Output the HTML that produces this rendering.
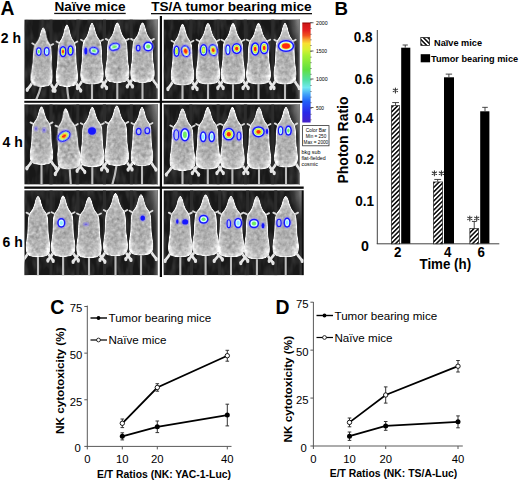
<!DOCTYPE html>
<html><head><meta charset="utf-8"><style>html,body{margin:0;padding:0;background:#fff;}svg{display:block;}</style></head>
<body><svg width="520" height="481" viewBox="0 0 520 481"><defs>
<radialGradient id="mb" cx="50%" cy="55%" r="55%"><stop offset="0" stop-color="#aaaaaa"/><stop offset="0.6" stop-color="#b2b2b2"/><stop offset="0.86" stop-color="#cccccc"/><stop offset="1" stop-color="#ececec"/></radialGradient>
<linearGradient id="vig" x1="0" x2="1" y1="0" y2="0"><stop offset="0" stop-color="#888" stop-opacity="0"/><stop offset="1" stop-color="#8a8a8a" stop-opacity="0.7"/></linearGradient>
<radialGradient id="vigr"><stop offset="0" stop-color="#a8a8a8" stop-opacity="0.85"/><stop offset="0.6" stop-color="#808080" stop-opacity="0.4"/><stop offset="1" stop-color="#606060" stop-opacity="0"/></radialGradient>
<filter id="bgn" x="0" y="0" width="100%" height="100%" color-interpolation-filters="sRGB"><feTurbulence type="fractalNoise" baseFrequency="0.18 0.06" numOctaves="2" seed="11"/><feColorMatrix type="matrix" values="0 0 0 0 0.28  0 0 0 0 0.28  0 0 0 0 0.28  1.4 0 0 0 -0.55"/></filter>
<filter id="soft" x="-20%" y="-20%" width="140%" height="140%"><feGaussianBlur stdDeviation="0.45"/></filter>
<filter id="mtex" x="-5%" y="-5%" width="110%" height="110%" color-interpolation-filters="sRGB"><feTurbulence type="fractalNoise" baseFrequency="0.28" numOctaves="2" seed="7"/><feColorMatrix type="matrix" values="0.33 0.33 0.33 0 0  0.33 0.33 0.33 0 0  0.33 0.33 0.33 0 0  0 0 0 0 1" result="gn"/><feComposite in="SourceGraphic" in2="gn" operator="arithmetic" k1="0" k2="1" k3="0.6" k4="-0.29" result="t"/><feComposite in="t" in2="SourceGraphic" operator="in"/></filter>
<filter id="soft2" x="-30%" y="-30%" width="160%" height="160%"><feGaussianBlur stdDeviation="0.5"/></filter>
<linearGradient id="cbar" x1="0" x2="0" y1="0" y2="1">
<stop offset="0" stop-color="#900000"/><stop offset="0.02" stop-color="#d01818"/><stop offset="0.08" stop-color="#e42020"/><stop offset="0.13" stop-color="#f05020"/><stop offset="0.17" stop-color="#f8a030"/><stop offset="0.21" stop-color="#f8e030"/><stop offset="0.27" stop-color="#d8f030"/><stop offset="0.33" stop-color="#a8f030"/><stop offset="0.47" stop-color="#60e040"/><stop offset="0.57" stop-color="#50e0a0"/><stop offset="0.65" stop-color="#70e8f0"/><stop offset="0.72" stop-color="#40a0f8"/><stop offset="0.79" stop-color="#2060f8"/><stop offset="0.9" stop-color="#2828e8"/><stop offset="1" stop-color="#4420c8"/></linearGradient>
<pattern id="hatch" width="3.2" height="3.2" patternUnits="userSpaceOnUse" patternTransform="rotate(45)"><rect width="3.2" height="3.2" fill="#fff"/><rect width="1.6" height="3.2" fill="#111"/></pattern>
<pattern id="hatch2" width="3.2" height="3.2" patternUnits="userSpaceOnUse" patternTransform="rotate(-45)"><rect width="3.2" height="3.2" fill="#fff"/><rect width="1.6" height="3.2" fill="#111"/></pattern>
</defs><rect width="520" height="481" fill="#fff"/><text x="0.6" y="14.6" font-size="19.3" font-weight="bold" text-anchor="start" font-family="Liberation Sans, sans-serif" >A</text><text x="54.5" y="11" font-size="13.6" font-weight="bold" text-anchor="start" font-family="Liberation Sans, sans-serif" >Naïve mice</text><rect x="54.2" y="12.8" width="71.5" height="1.3" fill="#111"/><text x="151.2" y="11.2" font-size="13.6" font-weight="bold" text-anchor="start" font-family="Liberation Sans, sans-serif" >TS/A tumor bearing mice</text><rect x="151" y="13" width="161" height="1.3" fill="#111"/><text x="0.8" y="43" font-size="14" font-weight="bold" text-anchor="start" font-family="Liberation Sans, sans-serif" >2 h</text><text x="2.5" y="146.8" font-size="14" font-weight="bold" text-anchor="start" font-family="Liberation Sans, sans-serif" >4 h</text><text x="2.5" y="247" font-size="14" font-weight="bold" text-anchor="start" font-family="Liberation Sans, sans-serif" >6 h</text><clipPath id="cL1"><rect x="24.3" y="19.4" width="133.7" height="79.6"/></clipPath><g clip-path="url(#cL1)"><rect x="24.3" y="19.4" width="133.7" height="79.6" fill="#181818"/><rect x="24.3" y="19.4" width="133.7" height="79.6" fill="#000" filter="url(#bgn)"/><rect x="49.5" y="19.4" width="3" height="79.6" fill="#2c2c2c"/><rect x="76.3" y="19.4" width="3" height="79.6" fill="#2c2c2c"/><rect x="103.0" y="19.4" width="3" height="79.6" fill="#2c2c2c"/><rect x="129.8" y="19.4" width="3" height="79.6" fill="#2c2c2c"/><ellipse cx="158" cy="19.4" rx="14" ry="34" fill="url(#vigr)"/><rect x="153" y="19.4" width="5" height="79.6" fill="url(#vig)" opacity="0.6"/><rect x="156.8" y="19.4" width="1.2" height="79.6" fill="#7a7a7a"/><g filter="url(#soft)"><g transform="rotate(2 42.3 57.0)"><path d="M42.3,84.8 Q40.8,92.5 37.3,101.0" stroke="#bdbdbd" stroke-width="2.1" fill="none"/><path d="M49.8,80.2 L53.2,86.0 L56.0,89.8" stroke="#e8e8e8" stroke-width="2.7" fill="none" stroke-linecap="round" stroke-linejoin="round"/><path d="M49.8,45.4 L52.8,43.7" stroke="#dcdcdc" stroke-width="1.8" fill="none" stroke-linecap="round"/><ellipse cx="56.2" cy="90.3" rx="1.6" ry="2.2" fill="#e4e4e4"/><path d="M34.8,80.2 L31.4,86.0 L28.6,89.8" stroke="#e8e8e8" stroke-width="2.7" fill="none" stroke-linecap="round" stroke-linejoin="round"/><path d="M34.8,45.4 L31.8,43.7" stroke="#dcdcdc" stroke-width="1.8" fill="none" stroke-linecap="round"/><ellipse cx="28.4" cy="90.3" rx="1.6" ry="2.2" fill="#e4e4e4"/></g><g transform="rotate(0 66.9 55.5)"><path d="M66.9,84.8 Q67.5,92.5 68.9,101.0" stroke="#bdbdbd" stroke-width="2.1" fill="none"/><path d="M74.3,79.9 L77.7,86.0 L80.5,90.0" stroke="#e8e8e8" stroke-width="2.7" fill="none" stroke-linecap="round" stroke-linejoin="round"/><path d="M74.3,43.3 L77.3,41.5" stroke="#dcdcdc" stroke-width="1.8" fill="none" stroke-linecap="round"/><ellipse cx="80.7" cy="90.6" rx="1.6" ry="2.2" fill="#e4e4e4"/><path d="M59.5,79.9 L56.1,86.0 L53.3,90.0" stroke="#e8e8e8" stroke-width="2.7" fill="none" stroke-linecap="round" stroke-linejoin="round"/><path d="M59.5,43.3 L56.5,41.5" stroke="#dcdcdc" stroke-width="1.8" fill="none" stroke-linecap="round"/><ellipse cx="53.1" cy="90.6" rx="1.6" ry="2.2" fill="#e4e4e4"/></g><g transform="rotate(0 92 53.5)"><path d="M92.0,82.3 Q92.0,91.2 92.0,101.0" stroke="#bdbdbd" stroke-width="2.1" fill="none"/><path d="M99.8,77.5 L103.4,83.5 L106.3,87.4" stroke="#e8e8e8" stroke-width="2.7" fill="none" stroke-linecap="round" stroke-linejoin="round"/><path d="M99.8,41.5 L103.0,39.7" stroke="#dcdcdc" stroke-width="1.8" fill="none" stroke-linecap="round"/><ellipse cx="106.6" cy="88.0" rx="1.6" ry="2.2" fill="#e4e4e4"/><path d="M84.2,77.5 L80.6,83.5 L77.7,87.4" stroke="#e8e8e8" stroke-width="2.7" fill="none" stroke-linecap="round" stroke-linejoin="round"/><path d="M84.2,41.5 L81.0,39.7" stroke="#dcdcdc" stroke-width="1.8" fill="none" stroke-linecap="round"/><ellipse cx="77.4" cy="88.0" rx="1.6" ry="2.2" fill="#e4e4e4"/></g><g transform="rotate(0 117.3 52.5)"><path d="M117.3,80.8 Q117.3,90.5 117.3,101.0" stroke="#bdbdbd" stroke-width="2.1" fill="none"/><path d="M125.5,76.1 L129.2,82.0 L132.3,85.8" stroke="#e8e8e8" stroke-width="2.7" fill="none" stroke-linecap="round" stroke-linejoin="round"/><path d="M125.5,40.7 L128.8,38.9" stroke="#dcdcdc" stroke-width="1.8" fill="none" stroke-linecap="round"/><ellipse cx="132.5" cy="86.4" rx="1.6" ry="2.2" fill="#e4e4e4"/><path d="M109.1,76.1 L105.4,82.0 L102.3,85.8" stroke="#e8e8e8" stroke-width="2.7" fill="none" stroke-linecap="round" stroke-linejoin="round"/><path d="M109.1,40.7 L105.8,38.9" stroke="#dcdcdc" stroke-width="1.8" fill="none" stroke-linecap="round"/><ellipse cx="102.1" cy="86.4" rx="1.6" ry="2.2" fill="#e4e4e4"/></g><g transform="rotate(0 142.5 52.5)"><path d="M142.5,80.8 Q142.5,90.5 142.5,101.0" stroke="#bdbdbd" stroke-width="2.1" fill="none"/><path d="M150.7,76.1 L154.4,82.0 L157.5,85.8" stroke="#e8e8e8" stroke-width="2.7" fill="none" stroke-linecap="round" stroke-linejoin="round"/><path d="M150.7,40.7 L154.0,38.9" stroke="#dcdcdc" stroke-width="1.8" fill="none" stroke-linecap="round"/><ellipse cx="157.7" cy="86.4" rx="1.6" ry="2.2" fill="#e4e4e4"/><path d="M134.3,76.1 L130.6,82.0 L127.5,85.8" stroke="#e8e8e8" stroke-width="2.7" fill="none" stroke-linecap="round" stroke-linejoin="round"/><path d="M134.3,40.7 L131.0,38.9" stroke="#dcdcdc" stroke-width="1.8" fill="none" stroke-linecap="round"/><ellipse cx="127.3" cy="86.4" rx="1.6" ry="2.2" fill="#e4e4e4"/></g></g><g filter="url(#mtex)"><path transform="rotate(2 42.3 57.0)" d="M42.30,28.00C42.62,28.00 42.94,28.58 43.26,29.16C43.58,29.74 43.92,30.51 44.23,31.48C44.53,32.45 44.80,33.90 45.08,34.96C45.37,36.02 45.55,36.80 45.94,37.86C46.33,38.92 46.79,40.18 47.44,41.34C48.08,42.50 49.22,43.56 49.79,44.82C50.36,46.08 50.61,47.04 50.86,48.88C51.11,50.72 51.16,53.33 51.29,55.84C51.41,58.35 51.41,61.45 51.61,63.96C51.81,66.47 52.23,68.79 52.46,70.92C52.70,73.05 53.00,74.88 53.00,76.72C53.00,78.56 53.00,80.54 52.46,81.94C51.93,83.34 50.86,84.45 49.79,85.13C48.72,85.81 47.11,85.81 46.04,86.00C44.97,86.19 44.17,86.24 43.37,86.29C42.57,86.34 42.03,86.34 41.23,86.29C40.43,86.24 39.62,86.19 38.55,86.00C37.48,85.81 35.88,85.81 34.81,85.13C33.74,84.45 32.67,83.34 32.13,81.94C31.60,80.54 31.60,78.56 31.60,76.72C31.60,74.88 31.90,73.05 32.13,70.92C32.37,68.79 32.79,66.47 32.99,63.96C33.19,61.45 33.19,58.35 33.31,55.84C33.44,53.33 33.49,50.72 33.74,48.88C33.99,47.04 34.24,46.08 34.81,44.82C35.38,43.56 36.52,42.50 37.16,41.34C37.81,40.18 38.27,38.92 38.66,37.86C39.05,36.80 39.23,36.02 39.52,34.96C39.80,33.90 40.07,32.45 40.37,31.48C40.68,30.51 41.02,29.74 41.34,29.16C41.66,28.58 41.98,28.00 42.30,28.00Z" fill="url(#mb)" stroke="#f2f2f2" stroke-width="1.3" filter="url(#soft)"/><path transform="rotate(0 66.9 55.5)" d="M66.90,25.00C67.22,25.00 67.54,25.61 67.85,26.22C68.17,26.83 68.51,27.64 68.81,28.66C69.11,29.68 69.37,31.20 69.66,32.32C69.94,33.44 70.12,34.25 70.50,35.37C70.89,36.49 71.35,37.81 71.99,39.03C72.62,40.25 73.75,41.37 74.32,42.69C74.89,44.01 75.13,45.03 75.38,46.96C75.63,48.89 75.68,51.64 75.80,54.28C75.93,56.92 75.93,60.18 76.12,62.82C76.32,65.46 76.74,67.90 76.97,70.14C77.20,72.38 77.50,74.31 77.50,76.24C77.50,78.17 77.50,80.26 76.97,81.73C76.44,83.20 75.38,84.37 74.32,85.09C73.26,85.80 71.67,85.80 70.61,86.00C69.55,86.20 68.76,86.25 67.96,86.30C67.17,86.36 66.64,86.36 65.84,86.30C65.05,86.25 64.25,86.20 63.19,86.00C62.13,85.80 60.54,85.80 59.48,85.09C58.42,84.37 57.36,83.20 56.83,81.73C56.30,80.26 56.30,78.17 56.30,76.24C56.30,74.31 56.60,72.38 56.83,70.14C57.06,67.90 57.48,65.46 57.68,62.82C57.87,60.18 57.87,56.92 58.00,54.28C58.12,51.64 58.17,48.89 58.42,46.96C58.67,45.03 58.91,44.01 59.48,42.69C60.05,41.37 61.18,40.25 61.81,39.03C62.45,37.81 62.91,36.49 63.30,35.37C63.68,34.25 63.86,33.44 64.14,32.32C64.43,31.20 64.69,29.68 64.99,28.66C65.29,27.64 65.63,26.83 65.95,26.22C66.26,25.61 66.58,25.00 66.90,25.00Z" fill="url(#mb)" stroke="#f2f2f2" stroke-width="1.3" filter="url(#soft)"/><path transform="rotate(0 92 53.5)" d="M92.00,23.50C92.34,23.50 92.67,24.10 93.01,24.70C93.34,25.30 93.70,26.10 94.02,27.10C94.33,28.10 94.61,29.60 94.91,30.70C95.21,31.80 95.40,32.60 95.81,33.70C96.22,34.80 96.70,36.10 97.38,37.30C98.05,38.50 99.24,39.60 99.84,40.90C100.44,42.20 100.70,43.20 100.96,45.10C101.22,47.00 101.28,49.70 101.41,52.30C101.54,54.90 101.54,58.10 101.74,60.70C101.95,63.30 102.40,65.70 102.64,67.90C102.88,70.10 103.20,72.00 103.20,73.90C103.20,75.80 103.20,77.85 102.64,79.30C102.08,80.75 100.96,81.90 99.84,82.60C98.72,83.30 97.04,83.30 95.92,83.50C94.80,83.70 93.96,83.75 93.12,83.80C92.28,83.85 91.72,83.85 90.88,83.80C90.04,83.75 89.20,83.70 88.08,83.50C86.96,83.30 85.28,83.30 84.16,82.60C83.04,81.90 81.92,80.75 81.36,79.30C80.80,77.85 80.80,75.80 80.80,73.90C80.80,72.00 81.12,70.10 81.36,67.90C81.60,65.70 82.05,63.30 82.26,60.70C82.46,58.10 82.46,54.90 82.59,52.30C82.72,49.70 82.78,47.00 83.04,45.10C83.30,43.20 83.56,42.20 84.16,40.90C84.76,39.60 85.95,38.50 86.62,37.30C87.30,36.10 87.78,34.80 88.19,33.70C88.60,32.60 88.79,31.80 89.09,30.70C89.39,29.60 89.67,28.10 89.98,27.10C90.30,26.10 90.66,25.30 90.99,24.70C91.33,24.10 91.66,23.50 92.00,23.50Z" fill="url(#mb)" stroke="#f2f2f2" stroke-width="1.3" filter="url(#soft)"/><path transform="rotate(0 117.3 52.5)" d="M117.30,23.00C117.65,23.00 118.00,23.59 118.35,24.18C118.70,24.77 119.07,25.56 119.41,26.54C119.74,27.52 120.03,29.00 120.34,30.08C120.65,31.16 120.85,31.95 121.28,33.03C121.71,34.11 122.21,35.39 122.92,36.57C123.62,37.75 124.87,38.83 125.49,40.11C126.11,41.39 126.39,42.37 126.66,44.24C126.93,46.11 126.99,48.76 127.13,51.32C127.26,53.88 127.26,57.02 127.48,59.58C127.69,62.14 128.16,64.50 128.41,66.66C128.67,68.82 129.00,70.69 129.00,72.56C129.00,74.43 129.00,76.44 128.41,77.87C127.83,79.30 126.66,80.43 125.49,81.12C124.32,81.80 122.56,81.80 121.39,82.00C120.22,82.20 119.35,82.25 118.47,82.29C117.59,82.34 117.01,82.34 116.13,82.29C115.25,82.25 114.38,82.20 113.20,82.00C112.03,81.80 110.28,81.80 109.11,81.12C107.94,80.43 106.77,79.30 106.19,77.87C105.60,76.44 105.60,74.43 105.60,72.56C105.60,70.69 105.93,68.82 106.19,66.66C106.44,64.50 106.91,62.14 107.12,59.58C107.34,57.02 107.34,53.88 107.47,51.32C107.61,48.76 107.67,46.11 107.94,44.24C108.21,42.37 108.49,41.39 109.11,40.11C109.73,38.83 110.98,37.75 111.68,36.57C112.39,35.39 112.89,34.11 113.32,33.03C113.75,31.95 113.95,31.16 114.26,30.08C114.57,29.00 114.86,27.52 115.19,26.54C115.53,25.56 115.90,24.77 116.25,24.18C116.60,23.59 116.95,23.00 117.30,23.00Z" fill="url(#mb)" stroke="#f2f2f2" stroke-width="1.3" filter="url(#soft)"/><path transform="rotate(0 142.5 52.5)" d="M142.50,23.00C142.85,23.00 143.20,23.59 143.55,24.18C143.90,24.77 144.27,25.56 144.61,26.54C144.94,27.52 145.23,29.00 145.54,30.08C145.85,31.16 146.05,31.95 146.48,33.03C146.91,34.11 147.41,35.39 148.12,36.57C148.82,37.75 150.07,38.83 150.69,40.11C151.31,41.39 151.59,42.37 151.86,44.24C152.13,46.11 152.19,48.76 152.33,51.32C152.46,53.88 152.46,57.02 152.68,59.58C152.89,62.14 153.36,64.50 153.62,66.66C153.87,68.82 154.20,70.69 154.20,72.56C154.20,74.43 154.20,76.44 153.62,77.87C153.03,79.30 151.86,80.43 150.69,81.12C149.52,81.80 147.76,81.80 146.59,82.00C145.43,82.20 144.55,82.25 143.67,82.29C142.79,82.34 142.21,82.34 141.33,82.29C140.45,82.25 139.57,82.20 138.41,82.00C137.24,81.80 135.48,81.80 134.31,81.12C133.14,80.43 131.97,79.30 131.38,77.87C130.80,76.44 130.80,74.43 130.80,72.56C130.80,70.69 131.13,68.82 131.38,66.66C131.64,64.50 132.11,62.14 132.32,59.58C132.54,57.02 132.54,53.88 132.67,51.32C132.81,48.76 132.87,46.11 133.14,44.24C133.41,42.37 133.69,41.39 134.31,40.11C134.93,38.83 136.18,37.75 136.88,36.57C137.59,35.39 138.09,34.11 138.52,33.03C138.95,31.95 139.15,31.16 139.46,30.08C139.77,29.00 140.06,27.52 140.39,26.54C140.73,25.56 141.10,24.77 141.45,24.18C141.80,23.59 142.15,23.00 142.50,23.00Z" fill="url(#mb)" stroke="#f2f2f2" stroke-width="1.3" filter="url(#soft)"/></g><g transform="rotate(0 38.8 51.6)" filter="url(#soft2)"><ellipse cx="38.8" cy="51.6" rx="4.1" ry="5.6" fill="#9088ff" opacity="0.4"/><ellipse cx="38.8" cy="51.6" rx="2.8" ry="4.3" fill="#1818ff"/><ellipse cx="38.8" cy="51.6" rx="1.65" ry="3.15" fill="#d4fcff"/><ellipse cx="38.8" cy="51.6" rx="0.99" ry="1.89" fill="#70ec60"/></g><g transform="rotate(0 46.7 51.5)" filter="url(#soft2)"><ellipse cx="46.7" cy="51.5" rx="4.15" ry="5.7" fill="#9088ff" opacity="0.4"/><ellipse cx="46.7" cy="51.5" rx="2.85" ry="4.4" fill="#1818ff"/><ellipse cx="46.7" cy="51.5" rx="1.70" ry="3.25" fill="#d4fcff"/><ellipse cx="46.7" cy="51.5" rx="1.02" ry="1.95" fill="#90e8ff"/></g><g transform="rotate(0 63 51.6)" filter="url(#soft2)"><ellipse cx="63" cy="51.6" rx="4.9" ry="7.0" fill="#9088ff" opacity="0.4"/><ellipse cx="63" cy="51.6" rx="3.6" ry="5.7" fill="#1818ff"/><ellipse cx="63" cy="51.6" rx="2.10" ry="4.20" fill="#d4fcff"/><ellipse cx="63" cy="51.6" rx="1.78" ry="3.57" fill="#a8f050"/><ellipse cx="63" cy="51.6" rx="1.43" ry="2.86" fill="#f8f040"/><ellipse cx="63" cy="51.6" rx="0.95" ry="1.89" fill="#ff2a10"/></g><g transform="rotate(0 70.5 50.5)" filter="url(#soft2)"><ellipse cx="70.5" cy="50.5" rx="4.5" ry="6.6" fill="#9088ff" opacity="0.4"/><ellipse cx="70.5" cy="50.5" rx="3.2" ry="5.3" fill="#1818ff"/><ellipse cx="70.5" cy="50.5" rx="1.70" ry="3.80" fill="#d4fcff"/><ellipse cx="70.5" cy="50.5" rx="1.33" ry="2.96" fill="#80ec50"/><ellipse cx="70.5" cy="50.5" rx="0.85" ry="1.90" fill="#f4f040"/></g><g transform="rotate(0 85.8 51)" filter="url(#soft2)"><ellipse cx="85.8" cy="51" rx="2.8" ry="4.8" fill="#9088ff" opacity="0.4"/><ellipse cx="85.8" cy="51" rx="1.5" ry="3.5" fill="#1818ff"/></g><g transform="rotate(15 94 50.8)" filter="url(#soft2)"><ellipse cx="94" cy="50.8" rx="6.3" ry="5.3" fill="#9088ff" opacity="0.4"/><ellipse cx="94" cy="50.8" rx="5" ry="4" fill="#1818ff"/><ellipse cx="94" cy="50.8" rx="3.50" ry="2.50" fill="#d4fcff"/><ellipse cx="94" cy="50.8" rx="2.10" ry="1.50" fill="#70ec60"/></g><g transform="rotate(-15 114.5 46.8)" filter="url(#soft2)"><ellipse cx="114.5" cy="46.8" rx="7.0" ry="5.3" fill="#9088ff" opacity="0.4"/><ellipse cx="114.5" cy="46.8" rx="5.7" ry="4" fill="#1818ff"/><ellipse cx="114.5" cy="46.8" rx="4.20" ry="2.50" fill="#d4fcff"/><ellipse cx="114.5" cy="46.8" rx="2.52" ry="1.50" fill="#70ec60"/></g><g transform="rotate(0 138.2 48.1)" filter="url(#soft2)"><ellipse cx="138.2" cy="48.1" rx="3.7" ry="4.7" fill="#9088ff" opacity="0.4"/><ellipse cx="138.2" cy="48.1" rx="2.4" ry="3.4" fill="#1818ff"/><ellipse cx="138.2" cy="48.1" rx="1.25" ry="2.25" fill="#b4bcf0"/></g><g transform="rotate(0 148.2 46.5)" filter="url(#soft2)"><ellipse cx="148.2" cy="46.5" rx="6.3" ry="6.3" fill="#9088ff" opacity="0.4"/><ellipse cx="148.2" cy="46.5" rx="5" ry="5" fill="#1818ff"/><ellipse cx="148.2" cy="46.5" rx="3.50" ry="3.50" fill="#d4fcff"/><ellipse cx="148.2" cy="46.5" rx="2.10" ry="2.10" fill="#70ec60"/></g></g><clipPath id="cR1"><rect x="163.5" y="19.4" width="136.5" height="79.6"/></clipPath><g clip-path="url(#cR1)"><rect x="163.5" y="19.4" width="136.5" height="79.6" fill="#181818"/><rect x="163.5" y="19.4" width="136.5" height="79.6" fill="#000" filter="url(#bgn)"/><rect x="189.3" y="19.4" width="3" height="79.6" fill="#2c2c2c"/><rect x="216.6" y="19.4" width="3" height="79.6" fill="#2c2c2c"/><rect x="243.9" y="19.4" width="3" height="79.6" fill="#2c2c2c"/><rect x="271.2" y="19.4" width="3" height="79.6" fill="#2c2c2c"/><ellipse cx="300" cy="19.4" rx="14" ry="34" fill="url(#vigr)"/><rect x="295" y="19.4" width="5" height="79.6" fill="url(#vig)" opacity="0.6"/><rect x="298.8" y="19.4" width="1.2" height="79.6" fill="#7a7a7a"/><g filter="url(#soft)"><g transform="rotate(0 182.5 54.5)"><path d="M182.5,83.3 Q182.5,91.8 182.5,101.0" stroke="#bdbdbd" stroke-width="2.1" fill="none"/><path d="M190.3,78.5 L193.9,84.5 L196.8,88.4" stroke="#e8e8e8" stroke-width="2.7" fill="none" stroke-linecap="round" stroke-linejoin="round"/><path d="M190.3,42.5 L193.5,40.7" stroke="#dcdcdc" stroke-width="1.8" fill="none" stroke-linecap="round"/><ellipse cx="197.1" cy="89.0" rx="1.6" ry="2.2" fill="#e4e4e4"/><path d="M174.7,78.5 L171.1,84.5 L168.2,88.4" stroke="#e8e8e8" stroke-width="2.7" fill="none" stroke-linecap="round" stroke-linejoin="round"/><path d="M174.7,42.5 L171.5,40.7" stroke="#dcdcdc" stroke-width="1.8" fill="none" stroke-linecap="round"/><ellipse cx="167.9" cy="89.0" rx="1.6" ry="2.2" fill="#e4e4e4"/></g><g transform="rotate(0 208 53.5)"><path d="M208.0,82.3 Q208.0,91.2 208.0,101.0" stroke="#bdbdbd" stroke-width="2.1" fill="none"/><path d="M216.2,77.5 L219.9,83.5 L223.0,87.4" stroke="#e8e8e8" stroke-width="2.7" fill="none" stroke-linecap="round" stroke-linejoin="round"/><path d="M216.2,41.5 L219.5,39.7" stroke="#dcdcdc" stroke-width="1.8" fill="none" stroke-linecap="round"/><ellipse cx="223.2" cy="88.0" rx="1.6" ry="2.2" fill="#e4e4e4"/><path d="M199.8,77.5 L196.1,83.5 L193.0,87.4" stroke="#e8e8e8" stroke-width="2.7" fill="none" stroke-linecap="round" stroke-linejoin="round"/><path d="M199.8,41.5 L196.5,39.7" stroke="#dcdcdc" stroke-width="1.8" fill="none" stroke-linecap="round"/><ellipse cx="192.8" cy="88.0" rx="1.6" ry="2.2" fill="#e4e4e4"/></g><g transform="rotate(0 233 53.5)"><path d="M233.0,82.3 Q233.0,91.2 233.0,101.0" stroke="#bdbdbd" stroke-width="2.1" fill="none"/><path d="M241.2,77.5 L244.9,83.5 L248.0,87.4" stroke="#e8e8e8" stroke-width="2.7" fill="none" stroke-linecap="round" stroke-linejoin="round"/><path d="M241.2,41.5 L244.5,39.7" stroke="#dcdcdc" stroke-width="1.8" fill="none" stroke-linecap="round"/><ellipse cx="248.2" cy="88.0" rx="1.6" ry="2.2" fill="#e4e4e4"/><path d="M224.8,77.5 L221.1,83.5 L218.0,87.4" stroke="#e8e8e8" stroke-width="2.7" fill="none" stroke-linecap="round" stroke-linejoin="round"/><path d="M224.8,41.5 L221.5,39.7" stroke="#dcdcdc" stroke-width="1.8" fill="none" stroke-linecap="round"/><ellipse cx="217.8" cy="88.0" rx="1.6" ry="2.2" fill="#e4e4e4"/></g><g transform="rotate(0 258.5 53.5)"><path d="M258.5,82.3 Q258.5,91.2 258.5,101.0" stroke="#bdbdbd" stroke-width="2.1" fill="none"/><path d="M266.8,77.5 L270.6,83.5 L273.7,87.4" stroke="#e8e8e8" stroke-width="2.7" fill="none" stroke-linecap="round" stroke-linejoin="round"/><path d="M266.8,41.5 L270.2,39.7" stroke="#dcdcdc" stroke-width="1.8" fill="none" stroke-linecap="round"/><ellipse cx="274.0" cy="88.0" rx="1.6" ry="2.2" fill="#e4e4e4"/><path d="M250.2,77.5 L246.4,83.5 L243.3,87.4" stroke="#e8e8e8" stroke-width="2.7" fill="none" stroke-linecap="round" stroke-linejoin="round"/><path d="M250.2,41.5 L246.8,39.7" stroke="#dcdcdc" stroke-width="1.8" fill="none" stroke-linecap="round"/><ellipse cx="243.0" cy="88.0" rx="1.6" ry="2.2" fill="#e4e4e4"/></g><g transform="rotate(0 285 53.5)"><path d="M285.0,82.3 Q285.0,91.2 285.0,101.0" stroke="#bdbdbd" stroke-width="2.1" fill="none"/><path d="M292.6,77.5 L296.1,83.5 L299.0,87.4" stroke="#e8e8e8" stroke-width="2.7" fill="none" stroke-linecap="round" stroke-linejoin="round"/><path d="M292.6,41.5 L295.7,39.7" stroke="#dcdcdc" stroke-width="1.8" fill="none" stroke-linecap="round"/><ellipse cx="299.2" cy="88.0" rx="1.6" ry="2.2" fill="#e4e4e4"/><path d="M277.4,77.5 L273.9,83.5 L271.0,87.4" stroke="#e8e8e8" stroke-width="2.7" fill="none" stroke-linecap="round" stroke-linejoin="round"/><path d="M277.4,41.5 L274.3,39.7" stroke="#dcdcdc" stroke-width="1.8" fill="none" stroke-linecap="round"/><ellipse cx="270.8" cy="88.0" rx="1.6" ry="2.2" fill="#e4e4e4"/></g></g><g filter="url(#mtex)"><path transform="rotate(0 182.5 54.5)" d="M182.50,24.50C182.84,24.50 183.17,25.10 183.51,25.70C183.84,26.30 184.20,27.10 184.52,28.10C184.83,29.10 185.11,30.60 185.41,31.70C185.71,32.80 185.90,33.60 186.31,34.70C186.72,35.80 187.20,37.10 187.88,38.30C188.55,39.50 189.74,40.60 190.34,41.90C190.94,43.20 191.20,44.20 191.46,46.10C191.72,48.00 191.78,50.70 191.91,53.30C192.04,55.90 192.04,59.10 192.24,61.70C192.45,64.30 192.90,66.70 193.14,68.90C193.38,71.10 193.70,73.00 193.70,74.90C193.70,76.80 193.70,78.85 193.14,80.30C192.58,81.75 191.46,82.90 190.34,83.60C189.22,84.30 187.54,84.30 186.42,84.50C185.30,84.70 184.46,84.75 183.62,84.80C182.78,84.85 182.22,84.85 181.38,84.80C180.54,84.75 179.70,84.70 178.58,84.50C177.46,84.30 175.78,84.30 174.66,83.60C173.54,82.90 172.42,81.75 171.86,80.30C171.30,78.85 171.30,76.80 171.30,74.90C171.30,73.00 171.62,71.10 171.86,68.90C172.10,66.70 172.55,64.30 172.76,61.70C172.96,59.10 172.96,55.90 173.09,53.30C173.22,50.70 173.28,48.00 173.54,46.10C173.80,44.20 174.06,43.20 174.66,41.90C175.26,40.60 176.45,39.50 177.12,38.30C177.80,37.10 178.28,35.80 178.69,34.70C179.10,33.60 179.29,32.80 179.59,31.70C179.89,30.60 180.17,29.10 180.48,28.10C180.80,27.10 181.16,26.30 181.49,25.70C181.83,25.10 182.16,24.50 182.50,24.50Z" fill="url(#mb)" stroke="#f2f2f2" stroke-width="1.3" filter="url(#soft)"/><path transform="rotate(0 208 53.5)" d="M208.00,23.50C208.35,23.50 208.70,24.10 209.05,24.70C209.40,25.30 209.77,26.10 210.11,27.10C210.44,28.10 210.73,29.60 211.04,30.70C211.35,31.80 211.55,32.60 211.98,33.70C212.41,34.80 212.91,36.10 213.62,37.30C214.32,38.50 215.57,39.60 216.19,40.90C216.81,42.20 217.09,43.20 217.36,45.10C217.63,47.00 217.69,49.70 217.83,52.30C217.96,54.90 217.96,58.10 218.18,60.70C218.39,63.30 218.86,65.70 219.12,67.90C219.37,70.10 219.70,72.00 219.70,73.90C219.70,75.80 219.70,77.85 219.12,79.30C218.53,80.75 217.36,81.90 216.19,82.60C215.02,83.30 213.26,83.30 212.09,83.50C210.93,83.70 210.05,83.75 209.17,83.80C208.29,83.85 207.71,83.85 206.83,83.80C205.95,83.75 205.07,83.70 203.91,83.50C202.74,83.30 200.98,83.30 199.81,82.60C198.64,81.90 197.47,80.75 196.88,79.30C196.30,77.85 196.30,75.80 196.30,73.90C196.30,72.00 196.63,70.10 196.88,67.90C197.14,65.70 197.61,63.30 197.82,60.70C198.04,58.10 198.04,54.90 198.17,52.30C198.31,49.70 198.37,47.00 198.64,45.10C198.91,43.20 199.19,42.20 199.81,40.90C200.43,39.60 201.68,38.50 202.38,37.30C203.09,36.10 203.59,34.80 204.02,33.70C204.45,32.60 204.65,31.80 204.96,30.70C205.27,29.60 205.56,28.10 205.89,27.10C206.23,26.10 206.60,25.30 206.95,24.70C207.30,24.10 207.65,23.50 208.00,23.50Z" fill="url(#mb)" stroke="#f2f2f2" stroke-width="1.3" filter="url(#soft)"/><path transform="rotate(0 233 53.5)" d="M233.00,23.50C233.35,23.50 233.70,24.10 234.05,24.70C234.40,25.30 234.77,26.10 235.11,27.10C235.44,28.10 235.73,29.60 236.04,30.70C236.35,31.80 236.55,32.60 236.98,33.70C237.41,34.80 237.91,36.10 238.62,37.30C239.32,38.50 240.57,39.60 241.19,40.90C241.81,42.20 242.09,43.20 242.36,45.10C242.63,47.00 242.69,49.70 242.83,52.30C242.96,54.90 242.96,58.10 243.18,60.70C243.39,63.30 243.86,65.70 244.12,67.90C244.37,70.10 244.70,72.00 244.70,73.90C244.70,75.80 244.70,77.85 244.12,79.30C243.53,80.75 242.36,81.90 241.19,82.60C240.02,83.30 238.26,83.30 237.09,83.50C235.93,83.70 235.05,83.75 234.17,83.80C233.29,83.85 232.71,83.85 231.83,83.80C230.95,83.75 230.07,83.70 228.91,83.50C227.74,83.30 225.98,83.30 224.81,82.60C223.64,81.90 222.47,80.75 221.88,79.30C221.30,77.85 221.30,75.80 221.30,73.90C221.30,72.00 221.63,70.10 221.88,67.90C222.14,65.70 222.61,63.30 222.82,60.70C223.04,58.10 223.04,54.90 223.17,52.30C223.31,49.70 223.37,47.00 223.64,45.10C223.91,43.20 224.19,42.20 224.81,40.90C225.43,39.60 226.68,38.50 227.38,37.30C228.09,36.10 228.59,34.80 229.02,33.70C229.45,32.60 229.65,31.80 229.96,30.70C230.27,29.60 230.56,28.10 230.89,27.10C231.23,26.10 231.60,25.30 231.95,24.70C232.30,24.10 232.65,23.50 233.00,23.50Z" fill="url(#mb)" stroke="#f2f2f2" stroke-width="1.3" filter="url(#soft)"/><path transform="rotate(0 258.5 53.5)" d="M258.50,23.50C258.86,23.50 259.21,24.10 259.57,24.70C259.93,25.30 260.30,26.10 260.64,27.10C260.98,28.10 261.28,29.60 261.59,30.70C261.91,31.80 262.11,32.60 262.55,33.70C262.98,34.80 263.50,36.10 264.21,37.30C264.93,38.50 266.20,39.60 266.83,40.90C267.46,42.20 267.74,43.20 268.02,45.10C268.30,47.00 268.36,49.70 268.50,52.30C268.63,54.90 268.63,58.10 268.85,60.70C269.07,63.30 269.55,65.70 269.81,67.90C270.06,70.10 270.40,72.00 270.40,73.90C270.40,75.80 270.40,77.85 269.81,79.30C269.21,80.75 268.02,81.90 266.83,82.60C265.64,83.30 263.86,83.30 262.67,83.50C261.48,83.70 260.58,83.75 259.69,83.80C258.80,83.85 258.20,83.85 257.31,83.80C256.42,83.75 255.53,83.70 254.34,83.50C253.15,83.30 251.36,83.30 250.17,82.60C248.98,81.90 247.79,80.75 247.19,79.30C246.60,77.85 246.60,75.80 246.60,73.90C246.60,72.00 246.94,70.10 247.19,67.90C247.45,65.70 247.93,63.30 248.15,60.70C248.37,58.10 248.37,54.90 248.50,52.30C248.64,49.70 248.70,47.00 248.98,45.10C249.26,43.20 249.54,42.20 250.17,40.90C250.80,39.60 252.07,38.50 252.79,37.30C253.50,36.10 254.02,34.80 254.45,33.70C254.89,32.60 255.09,31.80 255.41,30.70C255.72,29.60 256.02,28.10 256.36,27.10C256.70,26.10 257.07,25.30 257.43,24.70C257.79,24.10 258.14,23.50 258.50,23.50Z" fill="url(#mb)" stroke="#f2f2f2" stroke-width="1.3" filter="url(#soft)"/><path transform="rotate(0 285 53.5)" d="M285.00,23.50C285.33,23.50 285.65,24.10 285.98,24.70C286.31,25.30 286.65,26.10 286.96,27.10C287.27,28.10 287.54,29.60 287.83,30.70C288.12,31.80 288.31,32.60 288.71,33.70C289.11,34.80 289.58,36.10 290.23,37.30C290.89,38.50 292.05,39.60 292.63,40.90C293.21,42.20 293.47,43.20 293.72,45.10C293.97,47.00 294.03,49.70 294.16,52.30C294.28,54.90 294.28,58.10 294.48,60.70C294.68,63.30 295.12,65.70 295.36,67.90C295.59,70.10 295.90,72.00 295.90,73.90C295.90,75.80 295.90,77.85 295.36,79.30C294.81,80.75 293.72,81.90 292.63,82.60C291.54,83.30 289.90,83.30 288.81,83.50C287.73,83.70 286.91,83.75 286.09,83.80C285.27,83.85 284.73,83.85 283.91,83.80C283.09,83.75 282.27,83.70 281.19,83.50C280.10,83.30 278.46,83.30 277.37,82.60C276.28,81.90 275.19,80.75 274.64,79.30C274.10,77.85 274.10,75.80 274.10,73.90C274.10,72.00 274.41,70.10 274.64,67.90C274.88,65.70 275.32,63.30 275.52,60.70C275.72,58.10 275.72,54.90 275.84,52.30C275.97,49.70 276.03,47.00 276.28,45.10C276.53,43.20 276.79,42.20 277.37,40.90C277.95,39.60 279.11,38.50 279.77,37.30C280.42,36.10 280.89,34.80 281.29,33.70C281.69,32.60 281.88,31.80 282.17,30.70C282.46,29.60 282.73,28.10 283.04,27.10C283.35,26.10 283.69,25.30 284.02,24.70C284.35,24.10 284.67,23.50 285.00,23.50Z" fill="url(#mb)" stroke="#f2f2f2" stroke-width="1.3" filter="url(#soft)"/></g><g transform="rotate(0 176.6 51.2)" filter="url(#soft2)"><ellipse cx="176.6" cy="51.2" rx="4.5" ry="7.05" fill="#9088ff" opacity="0.4"/><ellipse cx="176.6" cy="51.2" rx="3.2" ry="5.75" fill="#1818ff"/><ellipse cx="176.6" cy="51.2" rx="1.70" ry="4.25" fill="#d4fcff"/><ellipse cx="176.6" cy="51.2" rx="1.33" ry="3.31" fill="#80ec50"/><ellipse cx="176.6" cy="51.2" rx="0.85" ry="2.12" fill="#f4f040"/></g><g transform="rotate(-15 185.6 51.2)" filter="url(#soft2)"><ellipse cx="185.6" cy="51.2" rx="5.8999999999999995" ry="7.5" fill="#9088ff" opacity="0.4"/><ellipse cx="185.6" cy="51.2" rx="4.6" ry="6.2" fill="#1818ff"/><ellipse cx="185.6" cy="51.2" rx="3.10" ry="4.70" fill="#d4fcff"/><ellipse cx="185.6" cy="51.2" rx="2.48" ry="3.76" fill="#f8f040"/><ellipse cx="185.6" cy="51.2" rx="1.86" ry="2.82" fill="#ff2a10"/></g><g transform="rotate(0 203.6 50)" filter="url(#soft2)"><ellipse cx="203.6" cy="50" rx="5.2" ry="7.3" fill="#9088ff" opacity="0.4"/><ellipse cx="203.6" cy="50" rx="3.9" ry="6" fill="#1818ff"/><ellipse cx="203.6" cy="50" rx="2.40" ry="4.50" fill="#d4fcff"/><ellipse cx="203.6" cy="50" rx="1.87" ry="3.51" fill="#80ec50"/><ellipse cx="203.6" cy="50" rx="1.20" ry="2.25" fill="#f4f040"/></g><g transform="rotate(-10 213.2 50.2)" filter="url(#soft2)"><ellipse cx="213.2" cy="50.2" rx="6.05" ry="7.5" fill="#9088ff" opacity="0.4"/><ellipse cx="213.2" cy="50.2" rx="4.75" ry="6.2" fill="#1818ff"/><ellipse cx="213.2" cy="50.2" rx="3.25" ry="4.70" fill="#d4fcff"/><ellipse cx="213.2" cy="50.2" rx="2.76" ry="4.00" fill="#a8f050"/><ellipse cx="213.2" cy="50.2" rx="2.21" ry="3.20" fill="#f8f040"/><ellipse cx="213.2" cy="50.2" rx="1.46" ry="2.12" fill="#ff2a10"/></g><g transform="rotate(0 227.9 49.8)" filter="url(#soft2)"><ellipse cx="227.9" cy="49.8" rx="3.9000000000000004" ry="6.5" fill="#9088ff" opacity="0.4"/><ellipse cx="227.9" cy="49.8" rx="2.6" ry="5.2" fill="#1818ff"/><ellipse cx="227.9" cy="49.8" rx="1.45" ry="4.05" fill="#d4fcff"/><ellipse cx="227.9" cy="49.8" rx="0.87" ry="2.43" fill="#90e8ff"/></g><g transform="rotate(0 236.7 48.6)" filter="url(#soft2)"><ellipse cx="236.7" cy="48.6" rx="6.3" ry="6.8999999999999995" fill="#9088ff" opacity="0.4"/><ellipse cx="236.7" cy="48.6" rx="5" ry="5.6" fill="#1818ff"/><ellipse cx="236.7" cy="48.6" rx="3.50" ry="4.10" fill="#d4fcff"/><ellipse cx="236.7" cy="48.6" rx="2.98" ry="3.48" fill="#a8f050"/><ellipse cx="236.7" cy="48.6" rx="2.38" ry="2.79" fill="#f8f040"/><ellipse cx="236.7" cy="48.6" rx="1.57" ry="1.84" fill="#ff2a10"/></g><g transform="rotate(0 255.2 49)" filter="url(#soft2)"><ellipse cx="255.2" cy="49" rx="5.8" ry="8.0" fill="#9088ff" opacity="0.4"/><ellipse cx="255.2" cy="49" rx="4.5" ry="6.7" fill="#1818ff"/><ellipse cx="255.2" cy="49" rx="3.00" ry="5.20" fill="#d4fcff"/><ellipse cx="255.2" cy="49" rx="2.55" ry="4.42" fill="#a8f050"/><ellipse cx="255.2" cy="49" rx="2.04" ry="3.54" fill="#f8f040"/><ellipse cx="255.2" cy="49" rx="1.35" ry="2.34" fill="#ff2a10"/></g><g transform="rotate(0 264.2 47.9)" filter="url(#soft2)"><ellipse cx="264.2" cy="47.9" rx="5.8" ry="7.7" fill="#9088ff" opacity="0.4"/><ellipse cx="264.2" cy="47.9" rx="4.5" ry="6.4" fill="#1818ff"/><ellipse cx="264.2" cy="47.9" rx="3.00" ry="4.90" fill="#d4fcff"/><ellipse cx="264.2" cy="47.9" rx="2.55" ry="4.17" fill="#a8f050"/><ellipse cx="264.2" cy="47.9" rx="2.04" ry="3.33" fill="#f8f040"/><ellipse cx="264.2" cy="47.9" rx="1.35" ry="2.21" fill="#ff2a10"/></g><g transform="rotate(0 286 46)" filter="url(#soft2)"><ellipse cx="286" cy="46" rx="9.5" ry="7.3" fill="#9088ff" opacity="0.4"/><ellipse cx="286" cy="46" rx="8.2" ry="6" fill="#1818ff"/><ellipse cx="286" cy="46" rx="6.70" ry="4.50" fill="#d4fcff"/><ellipse cx="286" cy="46" rx="5.36" ry="3.60" fill="#f8f040"/><ellipse cx="286" cy="46" rx="4.02" ry="2.70" fill="#ff2a10"/></g></g><clipPath id="cL2"><rect x="24.3" y="104.3" width="133.7" height="80.3"/></clipPath><g clip-path="url(#cL2)"><rect x="24.3" y="104.3" width="133.7" height="80.3" fill="#181818"/><rect x="24.3" y="104.3" width="133.7" height="80.3" fill="#000" filter="url(#bgn)"/><rect x="49.5" y="104.3" width="3" height="80.3" fill="#2c2c2c"/><rect x="76.3" y="104.3" width="3" height="80.3" fill="#2c2c2c"/><rect x="103.0" y="104.3" width="3" height="80.3" fill="#2c2c2c"/><rect x="129.8" y="104.3" width="3" height="80.3" fill="#2c2c2c"/><ellipse cx="158" cy="104.3" rx="14" ry="34" fill="url(#vigr)"/><rect x="153" y="104.3" width="5" height="80.3" fill="url(#vig)" opacity="0.6"/><rect x="156.8" y="104.3" width="1.2" height="80.3" fill="#7a7a7a"/><g filter="url(#soft)"><g transform="rotate(0 41.5 135.5)"><path d="M41.5,162.9 Q41.5,174.3 41.5,186.6" stroke="#bdbdbd" stroke-width="2.1" fill="none"/><path d="M49.3,158.3 L52.9,164.0 L55.8,167.7" stroke="#e8e8e8" stroke-width="2.7" fill="none" stroke-linecap="round" stroke-linejoin="round"/><path d="M49.3,124.1 L52.5,122.4" stroke="#dcdcdc" stroke-width="1.8" fill="none" stroke-linecap="round"/><ellipse cx="56.1" cy="168.3" rx="1.6" ry="2.2" fill="#e4e4e4"/><path d="M33.7,158.3 L30.1,164.0 L27.2,167.7" stroke="#e8e8e8" stroke-width="2.7" fill="none" stroke-linecap="round" stroke-linejoin="round"/><path d="M33.7,124.1 L30.5,122.4" stroke="#dcdcdc" stroke-width="1.8" fill="none" stroke-linecap="round"/><ellipse cx="26.9" cy="168.3" rx="1.6" ry="2.2" fill="#e4e4e4"/></g><g transform="rotate(-4 67.6 138.6)"><path d="M67.6,167.4 Q67.6,176.6 67.6,186.6" stroke="#bdbdbd" stroke-width="2.1" fill="none"/><path d="M75.6,162.6 L79.2,168.6 L82.2,172.5" stroke="#e8e8e8" stroke-width="2.7" fill="none" stroke-linecap="round" stroke-linejoin="round"/><path d="M75.6,126.6 L78.8,124.8" stroke="#dcdcdc" stroke-width="1.8" fill="none" stroke-linecap="round"/><ellipse cx="82.4" cy="173.1" rx="1.6" ry="2.2" fill="#e4e4e4"/><path d="M59.6,162.6 L56.0,168.6 L53.0,172.5" stroke="#e8e8e8" stroke-width="2.7" fill="none" stroke-linecap="round" stroke-linejoin="round"/><path d="M59.6,126.6 L56.4,124.8" stroke="#dcdcdc" stroke-width="1.8" fill="none" stroke-linecap="round"/><ellipse cx="52.8" cy="173.1" rx="1.6" ry="2.2" fill="#e4e4e4"/></g><g transform="rotate(0 92.3 136.8)"><path d="M92.3,165.1 Q92.3,175.4 92.3,186.6" stroke="#bdbdbd" stroke-width="2.1" fill="none"/><path d="M100.5,160.4 L104.2,166.3 L107.3,170.1" stroke="#e8e8e8" stroke-width="2.7" fill="none" stroke-linecap="round" stroke-linejoin="round"/><path d="M100.5,125.0 L103.8,123.2" stroke="#dcdcdc" stroke-width="1.8" fill="none" stroke-linecap="round"/><ellipse cx="107.5" cy="170.7" rx="1.6" ry="2.2" fill="#e4e4e4"/><path d="M84.1,160.4 L80.4,166.3 L77.3,170.1" stroke="#e8e8e8" stroke-width="2.7" fill="none" stroke-linecap="round" stroke-linejoin="round"/><path d="M84.1,125.0 L80.8,123.2" stroke="#dcdcdc" stroke-width="1.8" fill="none" stroke-linecap="round"/><ellipse cx="77.1" cy="170.7" rx="1.6" ry="2.2" fill="#e4e4e4"/></g><g transform="rotate(0 116.8 135.5)"><path d="M116.8,163.8 Q115.3,174.8 111.8,186.6" stroke="#bdbdbd" stroke-width="2.1" fill="none"/><path d="M125.0,159.1 L128.7,165.0 L131.8,168.8" stroke="#e8e8e8" stroke-width="2.7" fill="none" stroke-linecap="round" stroke-linejoin="round"/><path d="M125.0,123.7 L128.3,121.9" stroke="#dcdcdc" stroke-width="1.8" fill="none" stroke-linecap="round"/><ellipse cx="132.0" cy="169.4" rx="1.6" ry="2.2" fill="#e4e4e4"/><path d="M108.6,159.1 L104.9,165.0 L101.8,168.8" stroke="#e8e8e8" stroke-width="2.7" fill="none" stroke-linecap="round" stroke-linejoin="round"/><path d="M108.6,123.7 L105.3,121.9" stroke="#dcdcdc" stroke-width="1.8" fill="none" stroke-linecap="round"/><ellipse cx="101.6" cy="169.4" rx="1.6" ry="2.2" fill="#e4e4e4"/></g><g transform="rotate(0 142 136.3)"><path d="M142.0,164.1 Q142.0,174.9 142.0,186.6" stroke="#bdbdbd" stroke-width="2.1" fill="none"/><path d="M149.5,159.5 L152.9,165.3 L155.7,169.1" stroke="#e8e8e8" stroke-width="2.7" fill="none" stroke-linecap="round" stroke-linejoin="round"/><path d="M149.5,124.7 L152.5,123.0" stroke="#dcdcdc" stroke-width="1.8" fill="none" stroke-linecap="round"/><ellipse cx="155.9" cy="169.6" rx="1.6" ry="2.2" fill="#e4e4e4"/><path d="M134.5,159.5 L131.1,165.3 L128.3,169.1" stroke="#e8e8e8" stroke-width="2.7" fill="none" stroke-linecap="round" stroke-linejoin="round"/><path d="M134.5,124.7 L131.5,123.0" stroke="#dcdcdc" stroke-width="1.8" fill="none" stroke-linecap="round"/><ellipse cx="128.1" cy="169.6" rx="1.6" ry="2.2" fill="#e4e4e4"/></g></g><g filter="url(#mtex)"><path transform="rotate(0 41.5 135.5)" d="M41.50,107.00C41.84,107.00 42.17,107.57 42.51,108.14C42.84,108.71 43.20,109.47 43.52,110.42C43.83,111.37 44.11,112.80 44.41,113.84C44.71,114.89 44.90,115.64 45.31,116.69C45.72,117.73 46.20,118.97 46.88,120.11C47.55,121.25 48.74,122.30 49.34,123.53C49.94,124.77 50.20,125.71 50.46,127.52C50.72,129.32 50.78,131.89 50.91,134.36C51.04,136.83 51.04,139.87 51.24,142.34C51.45,144.81 51.90,147.09 52.14,149.18C52.38,151.27 52.70,153.07 52.70,154.88C52.70,156.69 52.70,158.63 52.14,160.01C51.58,161.39 50.46,162.48 49.34,163.14C48.22,163.81 46.54,163.81 45.42,164.00C44.30,164.19 43.46,164.24 42.62,164.28C41.78,164.33 41.22,164.33 40.38,164.28C39.54,164.24 38.70,164.19 37.58,164.00C36.46,163.81 34.78,163.81 33.66,163.14C32.54,162.48 31.42,161.39 30.86,160.01C30.30,158.63 30.30,156.69 30.30,154.88C30.30,153.07 30.62,151.27 30.86,149.18C31.10,147.09 31.55,144.81 31.76,142.34C31.96,139.87 31.96,136.83 32.09,134.36C32.22,131.89 32.28,129.32 32.54,127.52C32.80,125.71 33.06,124.77 33.66,123.53C34.26,122.30 35.45,121.25 36.12,120.11C36.80,118.97 37.28,117.73 37.69,116.69C38.10,115.64 38.29,114.89 38.59,113.84C38.89,112.80 39.17,111.37 39.48,110.42C39.80,109.47 40.16,108.71 40.49,108.14C40.83,107.57 41.16,107.00 41.50,107.00Z" fill="url(#mb)" stroke="#f2f2f2" stroke-width="1.3" filter="url(#soft)"/><path transform="rotate(-4 67.6 138.6)" d="M67.60,108.60C67.94,108.60 68.28,109.20 68.63,109.80C68.97,110.40 69.33,111.20 69.65,112.20C69.97,113.20 70.26,114.70 70.56,115.80C70.87,116.90 71.06,117.70 71.48,118.80C71.89,119.90 72.39,121.20 73.07,122.40C73.76,123.60 74.97,124.70 75.58,126.00C76.19,127.30 76.45,128.30 76.72,130.20C76.99,132.10 77.04,134.80 77.18,137.40C77.31,140.00 77.31,143.20 77.52,145.80C77.73,148.40 78.18,150.80 78.43,153.00C78.68,155.20 79.00,157.10 79.00,159.00C79.00,160.90 79.00,162.95 78.43,164.40C77.86,165.85 76.72,167.00 75.58,167.70C74.44,168.40 72.73,168.40 71.59,168.60C70.45,168.80 69.59,168.85 68.74,168.90C67.88,168.95 67.31,168.95 66.46,168.90C65.60,168.85 64.75,168.80 63.61,168.60C62.47,168.40 60.76,168.40 59.62,167.70C58.48,167.00 57.34,165.85 56.77,164.40C56.20,162.95 56.20,160.90 56.20,159.00C56.20,157.10 56.52,155.20 56.77,153.00C57.02,150.80 57.47,148.40 57.68,145.80C57.89,143.20 57.89,140.00 58.02,137.40C58.16,134.80 58.21,132.10 58.48,130.20C58.75,128.30 59.01,127.30 59.62,126.00C60.23,124.70 61.44,123.60 62.13,122.40C62.81,121.20 63.31,119.90 63.72,118.80C64.14,117.70 64.33,116.90 64.64,115.80C64.94,114.70 65.22,113.20 65.55,112.20C65.87,111.20 66.23,110.40 66.57,109.80C66.92,109.20 67.26,108.60 67.60,108.60Z" fill="url(#mb)" stroke="#f2f2f2" stroke-width="1.3" filter="url(#soft)"/><path transform="rotate(0 92.3 136.8)" d="M92.30,107.30C92.65,107.30 93.00,107.89 93.35,108.48C93.70,109.07 94.07,109.86 94.41,110.84C94.74,111.82 95.03,113.30 95.34,114.38C95.65,115.46 95.85,116.25 96.28,117.33C96.71,118.41 97.21,119.69 97.92,120.87C98.62,122.05 99.87,123.13 100.49,124.41C101.11,125.69 101.39,126.67 101.66,128.54C101.93,130.41 101.99,133.06 102.13,135.62C102.26,138.18 102.26,141.32 102.48,143.88C102.69,146.44 103.16,148.80 103.41,150.96C103.67,153.12 104.00,154.99 104.00,156.86C104.00,158.73 104.00,160.74 103.41,162.17C102.83,163.60 101.66,164.73 100.49,165.41C99.32,166.10 97.56,166.10 96.39,166.30C95.22,166.50 94.35,166.55 93.47,166.59C92.59,166.64 92.01,166.64 91.13,166.59C90.25,166.55 89.38,166.50 88.20,166.30C87.03,166.10 85.28,166.10 84.11,165.41C82.94,164.73 81.77,163.60 81.19,162.17C80.60,160.74 80.60,158.73 80.60,156.86C80.60,154.99 80.93,153.12 81.19,150.96C81.44,148.80 81.91,146.44 82.12,143.88C82.34,141.32 82.34,138.18 82.47,135.62C82.61,133.06 82.67,130.41 82.94,128.54C83.21,126.67 83.49,125.69 84.11,124.41C84.73,123.13 85.98,122.05 86.68,120.87C87.39,119.69 87.89,118.41 88.32,117.33C88.75,116.25 88.95,115.46 89.26,114.38C89.57,113.30 89.86,111.82 90.19,110.84C90.53,109.86 90.90,109.07 91.25,108.48C91.60,107.89 91.95,107.30 92.30,107.30Z" fill="url(#mb)" stroke="#f2f2f2" stroke-width="1.3" filter="url(#soft)"/><path transform="rotate(0 116.8 135.5)" d="M116.80,106.00C117.15,106.00 117.50,106.59 117.85,107.18C118.20,107.77 118.57,108.56 118.91,109.54C119.24,110.52 119.53,112.00 119.84,113.08C120.15,114.16 120.35,114.95 120.78,116.03C121.21,117.11 121.71,118.39 122.42,119.57C123.12,120.75 124.37,121.83 124.99,123.11C125.61,124.39 125.89,125.37 126.16,127.24C126.43,129.11 126.49,131.76 126.63,134.32C126.76,136.88 126.76,140.02 126.98,142.58C127.19,145.14 127.66,147.50 127.91,149.66C128.17,151.82 128.50,153.69 128.50,155.56C128.50,157.43 128.50,159.44 127.91,160.87C127.33,162.30 126.16,163.43 124.99,164.12C123.82,164.80 122.06,164.80 120.89,165.00C119.72,165.20 118.85,165.25 117.97,165.29C117.09,165.34 116.51,165.34 115.63,165.29C114.75,165.25 113.88,165.20 112.70,165.00C111.53,164.80 109.78,164.80 108.61,164.12C107.44,163.43 106.27,162.30 105.69,160.87C105.10,159.44 105.10,157.43 105.10,155.56C105.10,153.69 105.43,151.82 105.69,149.66C105.94,147.50 106.41,145.14 106.62,142.58C106.84,140.02 106.84,136.88 106.97,134.32C107.11,131.76 107.17,129.11 107.44,127.24C107.71,125.37 107.99,124.39 108.61,123.11C109.23,121.83 110.48,120.75 111.18,119.57C111.89,118.39 112.39,117.11 112.82,116.03C113.25,114.95 113.45,114.16 113.76,113.08C114.07,112.00 114.36,110.52 114.69,109.54C115.03,108.56 115.40,107.77 115.75,107.18C116.10,106.59 116.45,106.00 116.80,106.00Z" fill="url(#mb)" stroke="#f2f2f2" stroke-width="1.3" filter="url(#soft)"/><path transform="rotate(0 142 136.3)" d="M142.00,107.30C142.32,107.30 142.64,107.88 142.96,108.46C143.28,109.04 143.62,109.81 143.93,110.78C144.23,111.75 144.50,113.20 144.78,114.26C145.07,115.32 145.25,116.10 145.64,117.16C146.03,118.22 146.49,119.48 147.14,120.64C147.78,121.80 148.92,122.86 149.49,124.12C150.06,125.38 150.31,126.34 150.56,128.18C150.81,130.02 150.86,132.63 150.99,135.14C151.11,137.65 151.11,140.75 151.31,143.26C151.51,145.77 151.93,148.09 152.16,150.22C152.40,152.35 152.70,154.18 152.70,156.02C152.70,157.86 152.70,159.84 152.16,161.24C151.63,162.64 150.56,163.75 149.49,164.43C148.42,165.11 146.81,165.11 145.75,165.30C144.68,165.49 143.87,165.54 143.07,165.59C142.27,165.64 141.73,165.64 140.93,165.59C140.13,165.54 139.32,165.49 138.25,165.30C137.19,165.11 135.58,165.11 134.51,164.43C133.44,163.75 132.37,162.64 131.84,161.24C131.30,159.84 131.30,157.86 131.30,156.02C131.30,154.18 131.60,152.35 131.84,150.22C132.07,148.09 132.49,145.77 132.69,143.26C132.89,140.75 132.89,137.65 133.01,135.14C133.14,132.63 133.19,130.02 133.44,128.18C133.69,126.34 133.94,125.38 134.51,124.12C135.08,122.86 136.22,121.80 136.86,120.64C137.51,119.48 137.97,118.22 138.36,117.16C138.75,116.10 138.93,115.32 139.22,114.26C139.50,113.20 139.77,111.75 140.07,110.78C140.38,109.81 140.72,109.04 141.04,108.46C141.36,107.88 141.68,107.30 142.00,107.30Z" fill="url(#mb)" stroke="#f2f2f2" stroke-width="1.3" filter="url(#soft)"/></g><g transform="rotate(0 36 128.8)" filter="url(#soft2)"><ellipse cx="36" cy="128.8" rx="2.3" ry="2.8" fill="#8a80e8" opacity="0.55"/><ellipse cx="36" cy="128.8" rx="0.8999999999999999" ry="1.2" fill="#5a50e0" opacity="0.7"/></g><g transform="rotate(0 44.1 130.1)" filter="url(#soft2)"><ellipse cx="44.1" cy="130.1" rx="2.6" ry="3.0" fill="#8a80e8" opacity="0.55"/><ellipse cx="44.1" cy="130.1" rx="1.08" ry="1.32" fill="#5a50e0" opacity="0.7"/></g><g transform="rotate(-35 64 136.1)" filter="url(#soft2)"><ellipse cx="64" cy="136.1" rx="8.5" ry="6.5" fill="#9088ff" opacity="0.4"/><ellipse cx="64" cy="136.1" rx="7.2" ry="5.2" fill="#1818ff"/><ellipse cx="64" cy="136.1" rx="5.70" ry="3.70" fill="#d4fcff"/><ellipse cx="64" cy="136.1" rx="4.84" ry="3.15" fill="#a8f050"/><ellipse cx="64" cy="136.1" rx="3.88" ry="2.52" fill="#f8f040"/><ellipse cx="64" cy="136.1" rx="2.56" ry="1.67" fill="#ff2a10"/></g><g transform="rotate(0 92 131)" filter="url(#soft2)"><ellipse cx="92" cy="131" rx="5.3" ry="5.0" fill="#9088ff" opacity="0.4"/><ellipse cx="92" cy="131" rx="4" ry="3.7" fill="#1818ff"/></g><g transform="rotate(0 138.7 131.5)" filter="url(#soft2)"><ellipse cx="138.7" cy="131.5" rx="4.2" ry="5.0" fill="#9088ff" opacity="0.4"/><ellipse cx="138.7" cy="131.5" rx="2.9" ry="3.7" fill="#1818ff"/><ellipse cx="138.7" cy="131.5" rx="1.75" ry="2.55" fill="#b4bcf0"/></g><g transform="rotate(0 147.3 130.7)" filter="url(#soft2)"><ellipse cx="147.3" cy="130.7" rx="4.2" ry="4.8" fill="#9088ff" opacity="0.4"/><ellipse cx="147.3" cy="130.7" rx="2.9" ry="3.5" fill="#1818ff"/><ellipse cx="147.3" cy="130.7" rx="1.75" ry="2.35" fill="#b4bcf0"/></g></g><clipPath id="cR2"><rect x="163.5" y="104.3" width="136.5" height="80.3"/></clipPath><g clip-path="url(#cR2)"><rect x="163.5" y="104.3" width="136.5" height="80.3" fill="#181818"/><rect x="163.5" y="104.3" width="136.5" height="80.3" fill="#000" filter="url(#bgn)"/><rect x="189.3" y="104.3" width="3" height="80.3" fill="#2c2c2c"/><rect x="216.6" y="104.3" width="3" height="80.3" fill="#2c2c2c"/><rect x="243.9" y="104.3" width="3" height="80.3" fill="#2c2c2c"/><rect x="271.2" y="104.3" width="3" height="80.3" fill="#2c2c2c"/><ellipse cx="300" cy="104.3" rx="14" ry="34" fill="url(#vigr)"/><rect x="295" y="104.3" width="5" height="80.3" fill="url(#vig)" opacity="0.6"/><rect x="298.8" y="104.3" width="1.2" height="80.3" fill="#7a7a7a"/><g filter="url(#soft)"><g transform="rotate(0 182.5 139.5)"><path d="M182.5,168.8 Q182.5,177.3 182.5,186.6" stroke="#bdbdbd" stroke-width="2.1" fill="none"/><path d="M191.2,163.9 L195.1,170.0 L198.4,174.0" stroke="#e8e8e8" stroke-width="2.7" fill="none" stroke-linecap="round" stroke-linejoin="round"/><path d="M191.2,127.3 L194.7,125.5" stroke="#dcdcdc" stroke-width="1.8" fill="none" stroke-linecap="round"/><ellipse cx="198.6" cy="174.6" rx="1.6" ry="2.2" fill="#e4e4e4"/><path d="M173.8,163.9 L169.9,170.0 L166.6,174.0" stroke="#e8e8e8" stroke-width="2.7" fill="none" stroke-linecap="round" stroke-linejoin="round"/><path d="M173.8,127.3 L170.3,125.5" stroke="#dcdcdc" stroke-width="1.8" fill="none" stroke-linecap="round"/><ellipse cx="166.4" cy="174.6" rx="1.6" ry="2.2" fill="#e4e4e4"/></g><g transform="rotate(0 207.8 138.0)"><path d="M207.8,167.3 Q207.8,176.6 207.8,186.6" stroke="#bdbdbd" stroke-width="2.1" fill="none"/><path d="M216.1,162.4 L219.9,168.5 L223.0,172.5" stroke="#e8e8e8" stroke-width="2.7" fill="none" stroke-linecap="round" stroke-linejoin="round"/><path d="M216.1,125.8 L219.5,124.0" stroke="#dcdcdc" stroke-width="1.8" fill="none" stroke-linecap="round"/><ellipse cx="223.3" cy="173.1" rx="1.6" ry="2.2" fill="#e4e4e4"/><path d="M199.5,162.4 L195.7,168.5 L192.6,172.5" stroke="#e8e8e8" stroke-width="2.7" fill="none" stroke-linecap="round" stroke-linejoin="round"/><path d="M199.5,125.8 L196.1,124.0" stroke="#dcdcdc" stroke-width="1.8" fill="none" stroke-linecap="round"/><ellipse cx="192.3" cy="173.1" rx="1.6" ry="2.2" fill="#e4e4e4"/></g><g transform="rotate(0 232.4 138.0)"><path d="M232.4,167.3 Q232.4,176.6 232.4,186.6" stroke="#bdbdbd" stroke-width="2.1" fill="none"/><path d="M240.7,162.4 L244.5,168.5 L247.6,172.5" stroke="#e8e8e8" stroke-width="2.7" fill="none" stroke-linecap="round" stroke-linejoin="round"/><path d="M240.7,125.8 L244.1,124.0" stroke="#dcdcdc" stroke-width="1.8" fill="none" stroke-linecap="round"/><ellipse cx="247.9" cy="173.1" rx="1.6" ry="2.2" fill="#e4e4e4"/><path d="M224.1,162.4 L220.3,168.5 L217.2,172.5" stroke="#e8e8e8" stroke-width="2.7" fill="none" stroke-linecap="round" stroke-linejoin="round"/><path d="M224.1,125.8 L220.7,124.0" stroke="#dcdcdc" stroke-width="1.8" fill="none" stroke-linecap="round"/><ellipse cx="216.9" cy="173.1" rx="1.6" ry="2.2" fill="#e4e4e4"/></g><g transform="rotate(0 259 138.0)"><path d="M259.0,167.3 Q259.0,176.6 259.0,186.6" stroke="#bdbdbd" stroke-width="2.1" fill="none"/><path d="M267.2,162.4 L270.9,168.5 L274.0,172.5" stroke="#e8e8e8" stroke-width="2.7" fill="none" stroke-linecap="round" stroke-linejoin="round"/><path d="M267.2,125.8 L270.5,124.0" stroke="#dcdcdc" stroke-width="1.8" fill="none" stroke-linecap="round"/><ellipse cx="274.2" cy="173.1" rx="1.6" ry="2.2" fill="#e4e4e4"/><path d="M250.8,162.4 L247.1,168.5 L244.0,172.5" stroke="#e8e8e8" stroke-width="2.7" fill="none" stroke-linecap="round" stroke-linejoin="round"/><path d="M250.8,125.8 L247.5,124.0" stroke="#dcdcdc" stroke-width="1.8" fill="none" stroke-linecap="round"/><ellipse cx="243.8" cy="173.1" rx="1.6" ry="2.2" fill="#e4e4e4"/></g><g transform="rotate(0 286 137.0)"><path d="M286.0,165.3 Q286.0,175.6 286.0,186.6" stroke="#bdbdbd" stroke-width="2.1" fill="none"/><path d="M294.0,160.6 L297.6,166.5 L300.6,170.3" stroke="#e8e8e8" stroke-width="2.7" fill="none" stroke-linecap="round" stroke-linejoin="round"/><path d="M294.0,125.2 L297.2,123.4" stroke="#dcdcdc" stroke-width="1.8" fill="none" stroke-linecap="round"/><ellipse cx="300.8" cy="170.9" rx="1.6" ry="2.2" fill="#e4e4e4"/><path d="M278.0,160.6 L274.4,166.5 L271.4,170.3" stroke="#e8e8e8" stroke-width="2.7" fill="none" stroke-linecap="round" stroke-linejoin="round"/><path d="M278.0,125.2 L274.8,123.4" stroke="#dcdcdc" stroke-width="1.8" fill="none" stroke-linecap="round"/><ellipse cx="271.2" cy="170.9" rx="1.6" ry="2.2" fill="#e4e4e4"/></g></g><g filter="url(#mtex)"><path transform="rotate(0 182.5 139.5)" d="M182.50,109.00C182.87,109.00 183.24,109.61 183.62,110.22C183.99,110.83 184.38,111.64 184.73,112.66C185.08,113.68 185.39,115.20 185.72,116.32C186.05,117.44 186.26,118.25 186.72,119.37C187.17,120.49 187.71,121.81 188.45,123.03C189.20,124.25 190.52,125.37 191.18,126.69C191.84,128.01 192.13,129.03 192.42,130.96C192.71,132.89 192.77,135.64 192.92,138.28C193.06,140.92 193.06,144.18 193.29,146.82C193.52,149.46 194.01,151.90 194.28,154.14C194.55,156.38 194.90,158.31 194.90,160.24C194.90,162.17 194.90,164.26 194.28,165.73C193.66,167.20 192.42,168.37 191.18,169.09C189.94,169.80 188.08,169.80 186.84,170.00C185.60,170.20 184.67,170.25 183.74,170.31C182.81,170.36 182.19,170.36 181.26,170.31C180.33,170.25 179.40,170.20 178.16,170.00C176.92,169.80 175.06,169.80 173.82,169.09C172.58,168.37 171.34,167.20 170.72,165.73C170.10,164.26 170.10,162.17 170.10,160.24C170.10,158.31 170.45,156.38 170.72,154.14C170.99,151.90 171.48,149.46 171.71,146.82C171.94,144.18 171.94,140.92 172.08,138.28C172.23,135.64 172.29,132.89 172.58,130.96C172.87,129.03 173.16,128.01 173.82,126.69C174.48,125.37 175.80,124.25 176.55,123.03C177.29,121.81 177.83,120.49 178.28,119.37C178.74,118.25 178.95,117.44 179.28,116.32C179.61,115.20 179.92,113.68 180.27,112.66C180.62,111.64 181.01,110.83 181.38,110.22C181.76,109.61 182.13,109.00 182.50,109.00Z" fill="url(#mb)" stroke="#f2f2f2" stroke-width="1.3" filter="url(#soft)"/><path transform="rotate(0 207.8 138.0)" d="M207.80,107.50C208.16,107.50 208.51,108.11 208.87,108.72C209.23,109.33 209.60,110.14 209.94,111.16C210.28,112.18 210.58,113.70 210.89,114.82C211.21,115.94 211.41,116.75 211.85,117.87C212.28,118.99 212.80,120.31 213.51,121.53C214.23,122.75 215.50,123.87 216.13,125.19C216.76,126.51 217.04,127.53 217.32,129.46C217.60,131.39 217.66,134.14 217.80,136.78C217.93,139.42 217.93,142.68 218.15,145.32C218.37,147.96 218.85,150.40 219.11,152.64C219.36,154.88 219.70,156.81 219.70,158.74C219.70,160.67 219.70,162.76 219.11,164.23C218.51,165.70 217.32,166.87 216.13,167.59C214.94,168.30 213.16,168.30 211.97,168.50C210.78,168.70 209.88,168.75 208.99,168.81C208.10,168.86 207.50,168.86 206.61,168.81C205.72,168.75 204.83,168.70 203.64,168.50C202.45,168.30 200.66,168.30 199.47,167.59C198.28,166.87 197.09,165.70 196.50,164.23C195.90,162.76 195.90,160.67 195.90,158.74C195.90,156.81 196.24,154.88 196.50,152.64C196.75,150.40 197.23,147.96 197.45,145.32C197.67,142.68 197.67,139.42 197.80,136.78C197.94,134.14 198.00,131.39 198.28,129.46C198.56,127.53 198.84,126.51 199.47,125.19C200.10,123.87 201.37,122.75 202.09,121.53C202.80,120.31 203.32,118.99 203.75,117.87C204.19,116.75 204.39,115.94 204.71,114.82C205.02,113.70 205.32,112.18 205.66,111.16C206.00,110.14 206.37,109.33 206.73,108.72C207.09,108.11 207.44,107.50 207.80,107.50Z" fill="url(#mb)" stroke="#f2f2f2" stroke-width="1.3" filter="url(#soft)"/><path transform="rotate(0 232.4 138.0)" d="M232.40,107.50C232.76,107.50 233.11,108.11 233.47,108.72C233.83,109.33 234.20,110.14 234.54,111.16C234.88,112.18 235.18,113.70 235.49,114.82C235.81,115.94 236.01,116.75 236.45,117.87C236.88,118.99 237.40,120.31 238.11,121.53C238.83,122.75 240.10,123.87 240.73,125.19C241.36,126.51 241.64,127.53 241.92,129.46C242.20,131.39 242.26,134.14 242.40,136.78C242.53,139.42 242.53,142.68 242.75,145.32C242.97,147.96 243.45,150.40 243.71,152.64C243.96,154.88 244.30,156.81 244.30,158.74C244.30,160.67 244.30,162.76 243.71,164.23C243.11,165.70 241.92,166.87 240.73,167.59C239.54,168.30 237.75,168.30 236.56,168.50C235.38,168.70 234.48,168.75 233.59,168.81C232.70,168.86 232.10,168.86 231.21,168.81C230.32,168.75 229.43,168.70 228.24,168.50C227.05,168.30 225.26,168.30 224.07,167.59C222.88,166.87 221.69,165.70 221.09,164.23C220.50,162.76 220.50,160.67 220.50,158.74C220.50,156.81 220.84,154.88 221.09,152.64C221.35,150.40 221.83,147.96 222.05,145.32C222.27,142.68 222.27,139.42 222.40,136.78C222.54,134.14 222.60,131.39 222.88,129.46C223.16,127.53 223.44,126.51 224.07,125.19C224.70,123.87 225.97,122.75 226.69,121.53C227.40,120.31 227.92,118.99 228.35,117.87C228.79,116.75 228.99,115.94 229.31,114.82C229.62,113.70 229.92,112.18 230.26,111.16C230.60,110.14 230.97,109.33 231.33,108.72C231.69,108.11 232.04,107.50 232.40,107.50Z" fill="url(#mb)" stroke="#f2f2f2" stroke-width="1.3" filter="url(#soft)"/><path transform="rotate(0 259 138.0)" d="M259.00,107.50C259.35,107.50 259.70,108.11 260.05,108.72C260.40,109.33 260.77,110.14 261.11,111.16C261.44,112.18 261.73,113.70 262.04,114.82C262.35,115.94 262.55,116.75 262.98,117.87C263.41,118.99 263.91,120.31 264.62,121.53C265.32,122.75 266.57,123.87 267.19,125.19C267.81,126.51 268.09,127.53 268.36,129.46C268.63,131.39 268.69,134.14 268.83,136.78C268.96,139.42 268.96,142.68 269.18,145.32C269.39,147.96 269.86,150.40 270.12,152.64C270.37,154.88 270.70,156.81 270.70,158.74C270.70,160.67 270.70,162.76 270.12,164.23C269.53,165.70 268.36,166.87 267.19,167.59C266.02,168.30 264.27,168.30 263.10,168.50C261.93,168.70 261.05,168.75 260.17,168.81C259.29,168.86 258.71,168.86 257.83,168.81C256.95,168.75 256.07,168.70 254.91,168.50C253.74,168.30 251.98,168.30 250.81,167.59C249.64,166.87 248.47,165.70 247.88,164.23C247.30,162.76 247.30,160.67 247.30,158.74C247.30,156.81 247.63,154.88 247.88,152.64C248.14,150.40 248.61,147.96 248.82,145.32C249.04,142.68 249.04,139.42 249.17,136.78C249.31,134.14 249.37,131.39 249.64,129.46C249.91,127.53 250.19,126.51 250.81,125.19C251.43,123.87 252.68,122.75 253.38,121.53C254.09,120.31 254.59,118.99 255.02,117.87C255.45,116.75 255.65,115.94 255.96,114.82C256.27,113.70 256.56,112.18 256.89,111.16C257.23,110.14 257.60,109.33 257.95,108.72C258.30,108.11 258.65,107.50 259.00,107.50Z" fill="url(#mb)" stroke="#f2f2f2" stroke-width="1.3" filter="url(#soft)"/><path transform="rotate(0 286 137.0)" d="M286.00,107.50C286.34,107.50 286.68,108.09 287.03,108.68C287.37,109.27 287.73,110.06 288.05,111.04C288.38,112.02 288.66,113.50 288.96,114.58C289.27,115.66 289.46,116.45 289.88,117.53C290.29,118.61 290.79,119.89 291.47,121.07C292.16,122.25 293.37,123.33 293.98,124.61C294.59,125.89 294.85,126.87 295.12,128.74C295.39,130.61 295.44,133.26 295.58,135.82C295.71,138.38 295.71,141.52 295.92,144.08C296.13,146.64 296.58,149.00 296.83,151.16C297.08,153.32 297.40,155.19 297.40,157.06C297.40,158.93 297.40,160.94 296.83,162.37C296.26,163.80 295.12,164.93 293.98,165.62C292.84,166.30 291.13,166.30 289.99,166.50C288.85,166.70 288.00,166.75 287.14,166.79C286.28,166.84 285.72,166.84 284.86,166.79C284.00,166.75 283.15,166.70 282.01,166.50C280.87,166.30 279.16,166.30 278.02,165.62C276.88,164.93 275.74,163.80 275.17,162.37C274.60,160.94 274.60,158.93 274.60,157.06C274.60,155.19 274.92,153.32 275.17,151.16C275.42,149.00 275.87,146.64 276.08,144.08C276.29,141.52 276.29,138.38 276.42,135.82C276.56,133.26 276.61,130.61 276.88,128.74C277.15,126.87 277.41,125.89 278.02,124.61C278.63,123.33 279.84,122.25 280.53,121.07C281.21,119.89 281.71,118.61 282.12,117.53C282.54,116.45 282.73,115.66 283.04,114.58C283.34,113.50 283.62,112.02 283.95,111.04C284.27,110.06 284.63,109.27 284.97,108.68C285.32,108.09 285.66,107.50 286.00,107.50Z" fill="url(#mb)" stroke="#f2f2f2" stroke-width="1.3" filter="url(#soft)"/></g><g transform="rotate(0 176.3 134.9)" filter="url(#soft2)"><ellipse cx="176.3" cy="134.9" rx="4.3" ry="7.0" fill="#9088ff" opacity="0.4"/><ellipse cx="176.3" cy="134.9" rx="3" ry="5.7" fill="#1818ff"/><ellipse cx="176.3" cy="134.9" rx="1.85" ry="4.55" fill="#b4bcf0"/></g><g transform="rotate(0 184.9 134.7)" filter="url(#soft2)"><ellipse cx="184.9" cy="134.7" rx="6.0" ry="8.1" fill="#9088ff" opacity="0.4"/><ellipse cx="184.9" cy="134.7" rx="4.7" ry="6.8" fill="#1818ff"/><ellipse cx="184.9" cy="134.7" rx="3.20" ry="5.30" fill="#d4fcff"/><ellipse cx="184.9" cy="134.7" rx="1.92" ry="3.18" fill="#70ec60"/></g><g transform="rotate(0 203.2 136.8)" filter="url(#soft2)"><ellipse cx="203.2" cy="136.8" rx="4.7" ry="6.8" fill="#9088ff" opacity="0.4"/><ellipse cx="203.2" cy="136.8" rx="3.4" ry="5.5" fill="#1818ff"/><ellipse cx="203.2" cy="136.8" rx="1.90" ry="4.00" fill="#d4fcff"/><ellipse cx="203.2" cy="136.8" rx="1.14" ry="2.40" fill="#90e8ff"/></g><g transform="rotate(0 211.7 136.8)" filter="url(#soft2)"><ellipse cx="211.7" cy="136.8" rx="4.7" ry="6.8" fill="#9088ff" opacity="0.4"/><ellipse cx="211.7" cy="136.8" rx="3.4" ry="5.5" fill="#1818ff"/><ellipse cx="211.7" cy="136.8" rx="1.90" ry="4.00" fill="#d4fcff"/><ellipse cx="211.7" cy="136.8" rx="1.14" ry="2.40" fill="#90e8ff"/></g><g transform="rotate(0 228.8 134.2)" filter="url(#soft2)"><ellipse cx="228.8" cy="134.2" rx="7.3" ry="7.7" fill="#9088ff" opacity="0.4"/><ellipse cx="228.8" cy="134.2" rx="6" ry="6.4" fill="#1818ff"/><ellipse cx="228.8" cy="134.2" rx="4.50" ry="4.90" fill="#d4fcff"/><ellipse cx="228.8" cy="134.2" rx="3.82" ry="4.17" fill="#a8f050"/><ellipse cx="228.8" cy="134.2" rx="3.06" ry="3.33" fill="#f8f040"/><ellipse cx="228.8" cy="134.2" rx="2.02" ry="2.21" fill="#ff2a10"/></g><g transform="rotate(0 239 136)" filter="url(#soft2)"><ellipse cx="239" cy="136" rx="3.8" ry="5.8999999999999995" fill="#9088ff" opacity="0.4"/><ellipse cx="239" cy="136" rx="2.5" ry="4.6" fill="#1818ff"/><ellipse cx="239" cy="136" rx="1.35" ry="3.45" fill="#b4bcf0"/></g><g transform="rotate(0 258.5 131.8)" filter="url(#soft2)"><ellipse cx="258.5" cy="131.8" rx="7.7" ry="6.8999999999999995" fill="#9088ff" opacity="0.4"/><ellipse cx="258.5" cy="131.8" rx="6.4" ry="5.6" fill="#1818ff"/><ellipse cx="258.5" cy="131.8" rx="4.90" ry="4.10" fill="#d4fcff"/><ellipse cx="258.5" cy="131.8" rx="4.17" ry="3.48" fill="#a8f050"/><ellipse cx="258.5" cy="131.8" rx="3.33" ry="2.79" fill="#f8f040"/><ellipse cx="258.5" cy="131.8" rx="2.21" ry="1.84" fill="#ff2a10"/></g><g transform="rotate(0 267 131.4)" filter="url(#soft2)"><ellipse cx="267" cy="131.4" rx="2.5" ry="3.9000000000000004" fill="#9088ff" opacity="0.4"/><ellipse cx="267" cy="131.4" rx="1.2" ry="2.6" fill="#1818ff"/></g><g transform="rotate(0 280.6 130.7)" filter="url(#soft2)"><ellipse cx="280.6" cy="130.7" rx="4.0" ry="5.8999999999999995" fill="#9088ff" opacity="0.4"/><ellipse cx="280.6" cy="130.7" rx="2.7" ry="4.6" fill="#1818ff"/><ellipse cx="280.6" cy="130.7" rx="1.55" ry="3.45" fill="#d4fcff"/><ellipse cx="280.6" cy="130.7" rx="0.93" ry="2.07" fill="#90e8ff"/></g><g transform="rotate(0 288.4 130.6)" filter="url(#soft2)"><ellipse cx="288.4" cy="130.6" rx="4.8" ry="6.3999999999999995" fill="#9088ff" opacity="0.4"/><ellipse cx="288.4" cy="130.6" rx="3.5" ry="5.1" fill="#1818ff"/><ellipse cx="288.4" cy="130.6" rx="2.00" ry="3.60" fill="#d4fcff"/><ellipse cx="288.4" cy="130.6" rx="1.20" ry="2.16" fill="#70ec60"/></g></g><clipPath id="cL3"><rect x="24.3" y="190.3" width="133.7" height="84.89999999999998"/></clipPath><g clip-path="url(#cL3)"><rect x="24.3" y="190.3" width="133.7" height="84.89999999999998" fill="#181818"/><rect x="24.3" y="190.3" width="133.7" height="84.89999999999998" fill="#000" filter="url(#bgn)"/><rect x="49.5" y="190.3" width="3" height="84.89999999999998" fill="#2c2c2c"/><rect x="76.3" y="190.3" width="3" height="84.89999999999998" fill="#2c2c2c"/><rect x="103.0" y="190.3" width="3" height="84.89999999999998" fill="#2c2c2c"/><rect x="129.8" y="190.3" width="3" height="84.89999999999998" fill="#2c2c2c"/><ellipse cx="158" cy="190.3" rx="14" ry="34" fill="url(#vigr)"/><rect x="153" y="190.3" width="5" height="84.89999999999998" fill="url(#vig)" opacity="0.6"/><rect x="156.8" y="190.3" width="1.2" height="84.89999999999998" fill="#7a7a7a"/><g filter="url(#soft)"><g transform="rotate(0 38 226.4)"><path d="M38.0,255.2 Q38.0,265.8 38.0,277.2" stroke="#bdbdbd" stroke-width="2.1" fill="none"/><path d="M46.2,250.4 L49.9,256.4 L53.0,260.3" stroke="#e8e8e8" stroke-width="2.7" fill="none" stroke-linecap="round" stroke-linejoin="round"/><path d="M46.2,214.4 L49.5,212.6" stroke="#dcdcdc" stroke-width="1.8" fill="none" stroke-linecap="round"/><ellipse cx="53.2" cy="260.9" rx="1.6" ry="2.2" fill="#e4e4e4"/><path d="M29.8,250.4 L26.1,256.4 L23.0,260.3" stroke="#e8e8e8" stroke-width="2.7" fill="none" stroke-linecap="round" stroke-linejoin="round"/><path d="M29.8,214.4 L26.5,212.6" stroke="#dcdcdc" stroke-width="1.8" fill="none" stroke-linecap="round"/><ellipse cx="22.8" cy="260.9" rx="1.6" ry="2.2" fill="#e4e4e4"/></g><g transform="rotate(0 63.1 226.0)"><path d="M63.1,254.8 Q63.1,265.6 63.1,277.2" stroke="#bdbdbd" stroke-width="2.1" fill="none"/><path d="M71.3,250.0 L75.0,256.0 L78.1,259.9" stroke="#e8e8e8" stroke-width="2.7" fill="none" stroke-linecap="round" stroke-linejoin="round"/><path d="M71.3,214.0 L74.6,212.2" stroke="#dcdcdc" stroke-width="1.8" fill="none" stroke-linecap="round"/><ellipse cx="78.3" cy="260.5" rx="1.6" ry="2.2" fill="#e4e4e4"/><path d="M54.9,250.0 L51.2,256.0 L48.1,259.9" stroke="#e8e8e8" stroke-width="2.7" fill="none" stroke-linecap="round" stroke-linejoin="round"/><path d="M54.9,214.0 L51.6,212.2" stroke="#dcdcdc" stroke-width="1.8" fill="none" stroke-linecap="round"/><ellipse cx="47.9" cy="260.5" rx="1.6" ry="2.2" fill="#e4e4e4"/></g><g transform="rotate(0 89 227.3)"><path d="M89.0,256.1 Q89.0,266.2 89.0,277.2" stroke="#bdbdbd" stroke-width="2.1" fill="none"/><path d="M97.5,251.3 L101.4,257.3 L104.6,261.2" stroke="#e8e8e8" stroke-width="2.7" fill="none" stroke-linecap="round" stroke-linejoin="round"/><path d="M97.5,215.3 L101.0,213.5" stroke="#dcdcdc" stroke-width="1.8" fill="none" stroke-linecap="round"/><ellipse cx="104.9" cy="261.8" rx="1.6" ry="2.2" fill="#e4e4e4"/><path d="M80.5,251.3 L76.6,257.3 L73.4,261.2" stroke="#e8e8e8" stroke-width="2.7" fill="none" stroke-linecap="round" stroke-linejoin="round"/><path d="M80.5,215.3 L77.0,213.5" stroke="#dcdcdc" stroke-width="1.8" fill="none" stroke-linecap="round"/><ellipse cx="73.1" cy="261.8" rx="1.6" ry="2.2" fill="#e4e4e4"/></g><g transform="rotate(0 115.5 224.3)"><path d="M115.5,254.1 Q115.5,265.2 115.5,277.2" stroke="#bdbdbd" stroke-width="2.1" fill="none"/><path d="M123.8,249.1 L127.6,255.3 L130.7,259.3" stroke="#e8e8e8" stroke-width="2.7" fill="none" stroke-linecap="round" stroke-linejoin="round"/><path d="M123.8,211.9 L127.2,210.0" stroke="#dcdcdc" stroke-width="1.8" fill="none" stroke-linecap="round"/><ellipse cx="131.0" cy="259.9" rx="1.6" ry="2.2" fill="#e4e4e4"/><path d="M107.2,249.1 L103.4,255.3 L100.3,259.3" stroke="#e8e8e8" stroke-width="2.7" fill="none" stroke-linecap="round" stroke-linejoin="round"/><path d="M107.2,211.9 L103.8,210.0" stroke="#dcdcdc" stroke-width="1.8" fill="none" stroke-linecap="round"/><ellipse cx="100.0" cy="259.9" rx="1.6" ry="2.2" fill="#e4e4e4"/></g><g transform="rotate(0 141 224.6)"><path d="M141.0,253.4 Q141.0,264.9 141.0,277.2" stroke="#bdbdbd" stroke-width="2.1" fill="none"/><path d="M149.2,248.6 L152.9,254.6 L156.0,258.5" stroke="#e8e8e8" stroke-width="2.7" fill="none" stroke-linecap="round" stroke-linejoin="round"/><path d="M149.2,212.6 L152.5,210.8" stroke="#dcdcdc" stroke-width="1.8" fill="none" stroke-linecap="round"/><ellipse cx="156.2" cy="259.1" rx="1.6" ry="2.2" fill="#e4e4e4"/><path d="M132.8,248.6 L129.1,254.6 L126.0,258.5" stroke="#e8e8e8" stroke-width="2.7" fill="none" stroke-linecap="round" stroke-linejoin="round"/><path d="M132.8,212.6 L129.5,210.8" stroke="#dcdcdc" stroke-width="1.8" fill="none" stroke-linecap="round"/><ellipse cx="125.8" cy="259.1" rx="1.6" ry="2.2" fill="#e4e4e4"/></g></g><g filter="url(#mtex)"><path transform="rotate(0 38 226.4)" d="M38.00,196.40C38.35,196.40 38.70,197.00 39.05,197.60C39.40,198.20 39.77,199.00 40.11,200.00C40.44,201.00 40.73,202.50 41.04,203.60C41.35,204.70 41.55,205.50 41.98,206.60C42.41,207.70 42.91,209.00 43.62,210.20C44.32,211.40 45.57,212.50 46.19,213.80C46.81,215.10 47.09,216.10 47.36,218.00C47.63,219.90 47.69,222.60 47.83,225.20C47.96,227.80 47.96,231.00 48.18,233.60C48.39,236.20 48.86,238.60 49.12,240.80C49.37,243.00 49.70,244.90 49.70,246.80C49.70,248.70 49.70,250.75 49.12,252.20C48.53,253.65 47.36,254.80 46.19,255.50C45.02,256.20 43.27,256.20 42.09,256.40C40.92,256.60 40.05,256.65 39.17,256.70C38.29,256.75 37.71,256.75 36.83,256.70C35.95,256.65 35.08,256.60 33.91,256.40C32.73,256.20 30.98,256.20 29.81,255.50C28.64,254.80 27.47,253.65 26.88,252.20C26.30,250.75 26.30,248.70 26.30,246.80C26.30,244.90 26.63,243.00 26.88,240.80C27.14,238.60 27.61,236.20 27.82,233.60C28.04,231.00 28.04,227.80 28.17,225.20C28.31,222.60 28.37,219.90 28.64,218.00C28.91,216.10 29.19,215.10 29.81,213.80C30.43,212.50 31.68,211.40 32.38,210.20C33.09,209.00 33.59,207.70 34.02,206.60C34.45,205.50 34.65,204.70 34.96,203.60C35.27,202.50 35.56,201.00 35.89,200.00C36.23,199.00 36.60,198.20 36.95,197.60C37.30,197.00 37.65,196.40 38.00,196.40Z" fill="url(#mb)" stroke="#f2f2f2" stroke-width="1.3" filter="url(#soft)"/><path transform="rotate(0 63.1 226.0)" d="M63.10,196.00C63.45,196.00 63.80,196.60 64.15,197.20C64.50,197.80 64.87,198.60 65.21,199.60C65.54,200.60 65.83,202.10 66.14,203.20C66.45,204.30 66.65,205.10 67.08,206.20C67.51,207.30 68.01,208.60 68.72,209.80C69.42,211.00 70.67,212.10 71.29,213.40C71.91,214.70 72.19,215.70 72.46,217.60C72.73,219.50 72.79,222.20 72.93,224.80C73.06,227.40 73.06,230.60 73.28,233.20C73.49,235.80 73.96,238.20 74.22,240.40C74.47,242.60 74.80,244.50 74.80,246.40C74.80,248.30 74.80,250.35 74.22,251.80C73.63,253.25 72.46,254.40 71.29,255.10C70.12,255.80 68.37,255.80 67.20,256.00C66.03,256.20 65.15,256.25 64.27,256.30C63.39,256.35 62.81,256.35 61.93,256.30C61.05,256.25 60.18,256.20 59.01,256.00C57.84,255.80 56.08,255.80 54.91,255.10C53.74,254.40 52.57,253.25 51.98,251.80C51.40,250.35 51.40,248.30 51.40,246.40C51.40,244.50 51.73,242.60 51.98,240.40C52.24,238.20 52.71,235.80 52.92,233.20C53.14,230.60 53.14,227.40 53.27,224.80C53.41,222.20 53.47,219.50 53.74,217.60C54.01,215.70 54.29,214.70 54.91,213.40C55.53,212.10 56.78,211.00 57.48,209.80C58.19,208.60 58.69,207.30 59.12,206.20C59.55,205.10 59.75,204.30 60.06,203.20C60.37,202.10 60.66,200.60 60.99,199.60C61.33,198.60 61.70,197.80 62.05,197.20C62.40,196.60 62.75,196.00 63.10,196.00Z" fill="url(#mb)" stroke="#f2f2f2" stroke-width="1.3" filter="url(#soft)"/><path transform="rotate(0 89 227.3)" d="M89.00,197.30C89.37,197.30 89.73,197.90 90.10,198.50C90.46,199.10 90.85,199.90 91.20,200.90C91.54,201.90 91.85,203.40 92.17,204.50C92.50,205.60 92.70,206.40 93.15,207.50C93.60,208.60 94.12,209.90 94.86,211.10C95.59,212.30 96.89,213.40 97.54,214.70C98.19,216.00 98.48,217.00 98.76,218.90C99.04,220.80 99.11,223.50 99.25,226.10C99.39,228.70 99.39,231.90 99.61,234.50C99.84,237.10 100.33,239.50 100.59,241.70C100.85,243.90 101.20,245.80 101.20,247.70C101.20,249.60 101.20,251.65 100.59,253.10C99.98,254.55 98.76,255.70 97.54,256.40C96.32,257.10 94.49,257.10 93.27,257.30C92.05,257.50 91.13,257.55 90.22,257.60C89.31,257.65 88.69,257.65 87.78,257.60C86.87,257.55 85.95,257.50 84.73,257.30C83.51,257.10 81.68,257.10 80.46,256.40C79.24,255.70 78.02,254.55 77.41,253.10C76.80,251.65 76.80,249.60 76.80,247.70C76.80,245.80 77.15,243.90 77.41,241.70C77.67,239.50 78.16,237.10 78.39,234.50C78.61,231.90 78.61,228.70 78.75,226.10C78.89,223.50 78.96,220.80 79.24,218.90C79.52,217.00 79.81,216.00 80.46,214.70C81.11,213.40 82.41,212.30 83.14,211.10C83.88,209.90 84.40,208.60 84.85,207.50C85.30,206.40 85.50,205.60 85.83,204.50C86.15,203.40 86.46,201.90 86.80,200.90C87.15,199.90 87.54,199.10 87.90,198.50C88.27,197.90 88.63,197.30 89.00,197.30Z" fill="url(#mb)" stroke="#f2f2f2" stroke-width="1.3" filter="url(#soft)"/><path transform="rotate(0 115.5 224.3)" d="M115.50,193.30C115.86,193.30 116.21,193.92 116.57,194.54C116.93,195.16 117.30,195.99 117.64,197.02C117.98,198.05 118.28,199.60 118.59,200.74C118.91,201.88 119.11,202.70 119.55,203.84C119.98,204.98 120.50,206.32 121.21,207.56C121.93,208.80 123.20,209.94 123.83,211.28C124.46,212.62 124.74,213.66 125.02,215.62C125.30,217.58 125.36,220.37 125.50,223.06C125.63,225.75 125.63,229.05 125.85,231.74C126.07,234.43 126.55,236.91 126.81,239.18C127.06,241.45 127.40,243.42 127.40,245.38C127.40,247.34 127.40,249.46 126.81,250.96C126.21,252.46 125.02,253.65 123.83,254.37C122.64,255.09 120.86,255.09 119.67,255.30C118.48,255.51 117.58,255.56 116.69,255.61C115.80,255.66 115.20,255.66 114.31,255.61C113.42,255.56 112.52,255.51 111.33,255.30C110.14,255.09 108.36,255.09 107.17,254.37C105.98,253.65 104.79,252.46 104.19,250.96C103.60,249.46 103.60,247.34 103.60,245.38C103.60,243.42 103.94,241.45 104.19,239.18C104.45,236.91 104.93,234.43 105.15,231.74C105.37,229.05 105.37,225.75 105.50,223.06C105.64,220.37 105.70,217.58 105.98,215.62C106.26,213.66 106.54,212.62 107.17,211.28C107.80,209.94 109.07,208.80 109.79,207.56C110.50,206.32 111.02,204.98 111.45,203.84C111.89,202.70 112.09,201.88 112.41,200.74C112.72,199.60 113.02,198.05 113.36,197.02C113.70,195.99 114.07,195.16 114.43,194.54C114.79,193.92 115.14,193.30 115.50,193.30Z" fill="url(#mb)" stroke="#f2f2f2" stroke-width="1.3" filter="url(#soft)"/><path transform="rotate(0 141 224.6)" d="M141.00,194.60C141.35,194.60 141.70,195.20 142.05,195.80C142.40,196.40 142.77,197.20 143.11,198.20C143.44,199.20 143.73,200.70 144.04,201.80C144.35,202.90 144.55,203.70 144.98,204.80C145.41,205.90 145.91,207.20 146.62,208.40C147.32,209.60 148.57,210.70 149.19,212.00C149.81,213.30 150.09,214.30 150.36,216.20C150.63,218.10 150.69,220.80 150.83,223.40C150.96,226.00 150.96,229.20 151.18,231.80C151.39,234.40 151.86,236.80 152.12,239.00C152.37,241.20 152.70,243.10 152.70,245.00C152.70,246.90 152.70,248.95 152.12,250.40C151.53,251.85 150.36,253.00 149.19,253.70C148.02,254.40 146.26,254.40 145.09,254.60C143.93,254.80 143.05,254.85 142.17,254.90C141.29,254.95 140.71,254.95 139.83,254.90C138.95,254.85 138.07,254.80 136.91,254.60C135.74,254.40 133.98,254.40 132.81,253.70C131.64,253.00 130.47,251.85 129.88,250.40C129.30,248.95 129.30,246.90 129.30,245.00C129.30,243.10 129.63,241.20 129.88,239.00C130.14,236.80 130.61,234.40 130.82,231.80C131.04,229.20 131.04,226.00 131.17,223.40C131.31,220.80 131.37,218.10 131.64,216.20C131.91,214.30 132.19,213.30 132.81,212.00C133.43,210.70 134.68,209.60 135.38,208.40C136.09,207.20 136.59,205.90 137.02,204.80C137.45,203.70 137.65,202.90 137.96,201.80C138.27,200.70 138.56,199.20 138.89,198.20C139.23,197.20 139.60,196.40 139.95,195.80C140.30,195.20 140.65,194.60 141.00,194.60Z" fill="url(#mb)" stroke="#f2f2f2" stroke-width="1.3" filter="url(#soft)"/></g><g transform="rotate(0 61.3 222.9)" filter="url(#soft2)"><ellipse cx="61.3" cy="222.9" rx="5.3999999999999995" ry="6.1" fill="#9088ff" opacity="0.4"/><ellipse cx="61.3" cy="222.9" rx="4.1" ry="4.8" fill="#1818ff"/><ellipse cx="61.3" cy="222.9" rx="2.60" ry="3.30" fill="#d4fcff"/><ellipse cx="61.3" cy="222.9" rx="1.56" ry="1.98" fill="#90e8ff"/></g><g transform="rotate(0 86 224.3)" filter="url(#soft2)"><ellipse cx="86" cy="224.3" rx="3.3" ry="2.3" fill="#8a80e8" opacity="0.55"/><ellipse cx="86" cy="224.3" rx="1.5" ry="0.8999999999999999" fill="#5a50e0" opacity="0.7"/></g><g transform="rotate(0 142.7 218.1)" filter="url(#soft2)"><ellipse cx="142.7" cy="218.1" rx="3.5999999999999996" ry="4.0" fill="#9088ff" opacity="0.4"/><ellipse cx="142.7" cy="218.1" rx="2.3" ry="2.7" fill="#1818ff"/></g></g><clipPath id="cR3"><rect x="163.5" y="190.3" width="140.2" height="84.89999999999998"/></clipPath><g clip-path="url(#cR3)"><rect x="163.5" y="190.3" width="140.2" height="84.89999999999998" fill="#181818"/><rect x="163.5" y="190.3" width="140.2" height="84.89999999999998" fill="#000" filter="url(#bgn)"/><rect x="190.0" y="190.3" width="3" height="84.89999999999998" fill="#2c2c2c"/><rect x="218.1" y="190.3" width="3" height="84.89999999999998" fill="#2c2c2c"/><rect x="246.1" y="190.3" width="3" height="84.89999999999998" fill="#2c2c2c"/><rect x="274.2" y="190.3" width="3" height="84.89999999999998" fill="#2c2c2c"/><ellipse cx="303.7" cy="190.3" rx="14" ry="34" fill="url(#vigr)"/><rect x="298.7" y="190.3" width="5" height="84.89999999999998" fill="url(#vig)" opacity="0.6"/><rect x="301.7" y="190.3" width="2" height="84.89999999999998" fill="#0c0c0c"/><g filter="url(#soft)"><g transform="rotate(0 180.3 226.4)"><path d="M180.3,255.2 Q180.3,265.8 180.3,277.2" stroke="#bdbdbd" stroke-width="2.1" fill="none"/><path d="M188.5,250.4 L192.2,256.4 L195.3,260.3" stroke="#e8e8e8" stroke-width="2.7" fill="none" stroke-linecap="round" stroke-linejoin="round"/><path d="M188.5,214.4 L191.8,212.6" stroke="#dcdcdc" stroke-width="1.8" fill="none" stroke-linecap="round"/><ellipse cx="195.5" cy="260.9" rx="1.6" ry="2.2" fill="#e4e4e4"/><path d="M172.1,250.4 L168.4,256.4 L165.3,260.3" stroke="#e8e8e8" stroke-width="2.7" fill="none" stroke-linecap="round" stroke-linejoin="round"/><path d="M172.1,214.4 L168.8,212.6" stroke="#dcdcdc" stroke-width="1.8" fill="none" stroke-linecap="round"/><ellipse cx="165.1" cy="260.9" rx="1.6" ry="2.2" fill="#e4e4e4"/></g><g transform="rotate(0 205.6 225.0)"><path d="M205.6,253.8 Q205.6,265.1 205.6,277.2" stroke="#bdbdbd" stroke-width="2.1" fill="none"/><path d="M214.6,249.0 L218.8,255.0 L222.1,258.9" stroke="#e8e8e8" stroke-width="2.7" fill="none" stroke-linecap="round" stroke-linejoin="round"/><path d="M214.6,213.0 L218.2,211.2" stroke="#dcdcdc" stroke-width="1.8" fill="none" stroke-linecap="round"/><ellipse cx="222.4" cy="259.5" rx="1.6" ry="2.2" fill="#e4e4e4"/><path d="M196.6,249.0 L192.4,255.0 L189.1,258.9" stroke="#e8e8e8" stroke-width="2.7" fill="none" stroke-linecap="round" stroke-linejoin="round"/><path d="M196.6,213.0 L193.0,211.2" stroke="#dcdcdc" stroke-width="1.8" fill="none" stroke-linecap="round"/><ellipse cx="188.8" cy="259.5" rx="1.6" ry="2.2" fill="#e4e4e4"/></g><g transform="rotate(0 231 226.4)"><path d="M231.0,255.2 Q231.0,265.8 231.0,277.2" stroke="#bdbdbd" stroke-width="2.1" fill="none"/><path d="M240.0,250.4 L244.2,256.4 L247.5,260.3" stroke="#e8e8e8" stroke-width="2.7" fill="none" stroke-linecap="round" stroke-linejoin="round"/><path d="M240.0,214.4 L243.6,212.6" stroke="#dcdcdc" stroke-width="1.8" fill="none" stroke-linecap="round"/><ellipse cx="247.8" cy="260.9" rx="1.6" ry="2.2" fill="#e4e4e4"/><path d="M222.0,250.4 L217.8,256.4 L214.5,260.3" stroke="#e8e8e8" stroke-width="2.7" fill="none" stroke-linecap="round" stroke-linejoin="round"/><path d="M222.0,214.4 L218.4,212.6" stroke="#dcdcdc" stroke-width="1.8" fill="none" stroke-linecap="round"/><ellipse cx="214.2" cy="260.9" rx="1.6" ry="2.2" fill="#e4e4e4"/></g><g transform="rotate(0 256.9 227.4)"><path d="M256.9,257.2 Q256.9,266.8 256.9,277.2" stroke="#bdbdbd" stroke-width="2.1" fill="none"/><path d="M265.6,252.2 L269.5,258.4 L272.8,262.4" stroke="#e8e8e8" stroke-width="2.7" fill="none" stroke-linecap="round" stroke-linejoin="round"/><path d="M265.6,215.0 L269.1,213.1" stroke="#dcdcdc" stroke-width="1.8" fill="none" stroke-linecap="round"/><ellipse cx="273.0" cy="263.1" rx="1.6" ry="2.2" fill="#e4e4e4"/><path d="M248.2,252.2 L244.3,258.4 L241.0,262.4" stroke="#e8e8e8" stroke-width="2.7" fill="none" stroke-linecap="round" stroke-linejoin="round"/><path d="M248.2,215.0 L244.7,213.1" stroke="#dcdcdc" stroke-width="1.8" fill="none" stroke-linecap="round"/><ellipse cx="240.8" cy="263.1" rx="1.6" ry="2.2" fill="#e4e4e4"/></g><g transform="rotate(0 285.7 226.4)"><path d="M285.7,255.2 Q285.7,265.8 285.7,277.2" stroke="#bdbdbd" stroke-width="2.1" fill="none"/><path d="M294.6,250.4 L298.7,256.4 L302.0,260.3" stroke="#e8e8e8" stroke-width="2.7" fill="none" stroke-linecap="round" stroke-linejoin="round"/><path d="M294.6,214.4 L298.1,212.6" stroke="#dcdcdc" stroke-width="1.8" fill="none" stroke-linecap="round"/><ellipse cx="302.2" cy="260.9" rx="1.6" ry="2.2" fill="#e4e4e4"/><path d="M276.8,250.4 L272.7,256.4 L269.4,260.3" stroke="#e8e8e8" stroke-width="2.7" fill="none" stroke-linecap="round" stroke-linejoin="round"/><path d="M276.8,214.4 L273.3,212.6" stroke="#dcdcdc" stroke-width="1.8" fill="none" stroke-linecap="round"/><ellipse cx="269.2" cy="260.9" rx="1.6" ry="2.2" fill="#e4e4e4"/></g></g><g filter="url(#mtex)"><path transform="rotate(0 180.3 226.4)" d="M180.30,196.40C180.65,196.40 181.00,197.00 181.35,197.60C181.70,198.20 182.07,199.00 182.41,200.00C182.74,201.00 183.03,202.50 183.34,203.60C183.65,204.70 183.85,205.50 184.28,206.60C184.71,207.70 185.21,209.00 185.92,210.20C186.62,211.40 187.87,212.50 188.49,213.80C189.11,215.10 189.39,216.10 189.66,218.00C189.93,219.90 189.99,222.60 190.13,225.20C190.26,227.80 190.26,231.00 190.48,233.60C190.69,236.20 191.16,238.60 191.42,240.80C191.67,243.00 192.00,244.90 192.00,246.80C192.00,248.70 192.00,250.75 191.42,252.20C190.83,253.65 189.66,254.80 188.49,255.50C187.32,256.20 185.56,256.20 184.40,256.40C183.23,256.60 182.35,256.65 181.47,256.70C180.59,256.75 180.01,256.75 179.13,256.70C178.25,256.65 177.38,256.60 176.21,256.40C175.04,256.20 173.28,256.20 172.11,255.50C170.94,254.80 169.77,253.65 169.19,252.20C168.60,250.75 168.60,248.70 168.60,246.80C168.60,244.90 168.93,243.00 169.19,240.80C169.44,238.60 169.91,236.20 170.12,233.60C170.34,231.00 170.34,227.80 170.47,225.20C170.61,222.60 170.67,219.90 170.94,218.00C171.21,216.10 171.49,215.10 172.11,213.80C172.73,212.50 173.98,211.40 174.68,210.20C175.39,209.00 175.89,207.70 176.32,206.60C176.75,205.50 176.95,204.70 177.26,203.60C177.57,202.50 177.86,201.00 178.19,200.00C178.53,199.00 178.90,198.20 179.25,197.60C179.60,197.00 179.95,196.40 180.30,196.40Z" fill="url(#mb)" stroke="#f2f2f2" stroke-width="1.3" filter="url(#soft)"/><path transform="rotate(0 205.6 225.0)" d="M205.60,195.00C205.99,195.00 206.37,195.60 206.76,196.20C207.15,196.80 207.56,197.60 207.92,198.60C208.29,199.60 208.61,201.10 208.95,202.20C209.30,203.30 209.51,204.10 209.99,205.20C210.46,206.30 211.02,207.60 211.79,208.80C212.57,210.00 213.94,211.10 214.63,212.40C215.32,213.70 215.62,214.70 215.92,216.60C216.22,218.50 216.29,221.20 216.44,223.80C216.59,226.40 216.59,229.60 216.82,232.20C217.06,234.80 217.58,237.20 217.85,239.40C218.13,241.60 218.50,243.50 218.50,245.40C218.50,247.30 218.50,249.35 217.85,250.80C217.21,252.25 215.92,253.40 214.63,254.10C213.34,254.80 211.40,254.80 210.11,255.00C208.82,255.20 207.86,255.25 206.89,255.30C205.92,255.35 205.28,255.35 204.31,255.30C203.34,255.25 202.38,255.20 201.09,255.00C199.80,254.80 197.86,254.80 196.57,254.10C195.28,253.40 193.99,252.25 193.34,250.80C192.70,249.35 192.70,247.30 192.70,245.40C192.70,243.50 193.07,241.60 193.34,239.40C193.62,237.20 194.14,234.80 194.38,232.20C194.61,229.60 194.61,226.40 194.76,223.80C194.91,221.20 194.98,218.50 195.28,216.60C195.58,214.70 195.88,213.70 196.57,212.40C197.26,211.10 198.63,210.00 199.41,208.80C200.18,207.60 200.74,206.30 201.21,205.20C201.69,204.10 201.90,203.30 202.25,202.20C202.59,201.10 202.91,199.60 203.28,198.60C203.64,197.60 204.05,196.80 204.44,196.20C204.83,195.60 205.21,195.00 205.60,195.00Z" fill="url(#mb)" stroke="#f2f2f2" stroke-width="1.3" filter="url(#soft)"/><path transform="rotate(0 231 226.4)" d="M231.00,196.40C231.39,196.40 231.77,197.00 232.16,197.60C232.55,198.20 232.96,199.00 233.32,200.00C233.69,201.00 234.01,202.50 234.35,203.60C234.70,204.70 234.91,205.50 235.39,206.60C235.86,207.70 236.42,209.00 237.19,210.20C237.97,211.40 239.34,212.50 240.03,213.80C240.72,215.10 241.02,216.10 241.32,218.00C241.62,219.90 241.69,222.60 241.84,225.20C241.99,227.80 241.99,231.00 242.22,233.60C242.46,236.20 242.98,238.60 243.25,240.80C243.53,243.00 243.90,244.90 243.90,246.80C243.90,248.70 243.90,250.75 243.25,252.20C242.61,253.65 241.32,254.80 240.03,255.50C238.74,256.20 236.80,256.20 235.51,256.40C234.22,256.60 233.26,256.65 232.29,256.70C231.32,256.75 230.68,256.75 229.71,256.70C228.74,256.65 227.78,256.60 226.49,256.40C225.20,256.20 223.26,256.20 221.97,255.50C220.68,254.80 219.39,253.65 218.75,252.20C218.10,250.75 218.10,248.70 218.10,246.80C218.10,244.90 218.47,243.00 218.75,240.80C219.02,238.60 219.54,236.20 219.78,233.60C220.01,231.00 220.01,227.80 220.16,225.20C220.31,222.60 220.38,219.90 220.68,218.00C220.98,216.10 221.28,215.10 221.97,213.80C222.66,212.50 224.03,211.40 224.81,210.20C225.58,209.00 226.14,207.70 226.61,206.60C227.09,205.50 227.30,204.70 227.65,203.60C227.99,202.50 228.31,201.00 228.68,200.00C229.04,199.00 229.45,198.20 229.84,197.60C230.23,197.00 230.61,196.40 231.00,196.40Z" fill="url(#mb)" stroke="#f2f2f2" stroke-width="1.3" filter="url(#soft)"/><path transform="rotate(0 256.9 227.4)" d="M256.90,196.40C257.27,196.40 257.64,197.02 258.02,197.64C258.39,198.26 258.78,199.09 259.13,200.12C259.48,201.15 259.79,202.70 260.12,203.84C260.45,204.98 260.66,205.80 261.12,206.94C261.57,208.08 262.11,209.42 262.85,210.66C263.60,211.90 264.92,213.04 265.58,214.38C266.24,215.72 266.53,216.76 266.82,218.72C267.11,220.68 267.17,223.47 267.32,226.16C267.46,228.85 267.46,232.15 267.69,234.84C267.92,237.53 268.41,240.01 268.68,242.28C268.95,244.55 269.30,246.52 269.30,248.48C269.30,250.44 269.30,252.56 268.68,254.06C268.06,255.56 266.82,256.75 265.58,257.47C264.34,258.19 262.48,258.19 261.24,258.40C260.00,258.61 259.07,258.66 258.14,258.71C257.21,258.76 256.59,258.76 255.66,258.71C254.73,258.66 253.80,258.61 252.56,258.40C251.32,258.19 249.46,258.19 248.22,257.47C246.98,256.75 245.74,255.56 245.12,254.06C244.50,252.56 244.50,250.44 244.50,248.48C244.50,246.52 244.85,244.55 245.12,242.28C245.39,240.01 245.88,237.53 246.11,234.84C246.34,232.15 246.34,228.85 246.48,226.16C246.63,223.47 246.69,220.68 246.98,218.72C247.27,216.76 247.56,215.72 248.22,214.38C248.88,213.04 250.20,211.90 250.95,210.66C251.69,209.42 252.23,208.08 252.68,206.94C253.14,205.80 253.35,204.98 253.68,203.84C254.01,202.70 254.32,201.15 254.67,200.12C255.02,199.09 255.41,198.26 255.78,197.64C256.16,197.02 256.53,196.40 256.90,196.40Z" fill="url(#mb)" stroke="#f2f2f2" stroke-width="1.3" filter="url(#soft)"/><path transform="rotate(0 285.7 226.4)" d="M285.70,196.40C286.08,196.40 286.46,197.00 286.84,197.60C287.22,198.20 287.63,199.00 287.99,200.00C288.35,201.00 288.66,202.50 289.00,203.60C289.34,204.70 289.55,205.50 290.02,206.60C290.48,207.70 291.03,209.00 291.80,210.20C292.56,211.40 293.91,212.50 294.59,213.80C295.27,215.10 295.56,216.10 295.86,218.00C296.16,219.90 296.22,222.60 296.37,225.20C296.52,227.80 296.52,231.00 296.75,233.60C296.98,236.20 297.49,238.60 297.76,240.80C298.04,243.00 298.40,244.90 298.40,246.80C298.40,248.70 298.40,250.75 297.76,252.20C297.13,253.65 295.86,254.80 294.59,255.50C293.32,256.20 291.41,256.20 290.14,256.40C288.88,256.60 287.92,256.65 286.97,256.70C286.02,256.75 285.38,256.75 284.43,256.70C283.48,256.65 282.52,256.60 281.25,256.40C279.99,256.20 278.08,256.20 276.81,255.50C275.54,254.80 274.27,253.65 273.63,252.20C273.00,250.75 273.00,248.70 273.00,246.80C273.00,244.90 273.36,243.00 273.63,240.80C273.91,238.60 274.42,236.20 274.65,233.60C274.88,231.00 274.88,227.80 275.03,225.20C275.18,222.60 275.24,219.90 275.54,218.00C275.84,216.10 276.13,215.10 276.81,213.80C277.49,212.50 278.84,211.40 279.60,210.20C280.37,209.00 280.92,207.70 281.38,206.60C281.85,205.50 282.06,204.70 282.40,203.60C282.74,202.50 283.05,201.00 283.41,200.00C283.77,199.00 284.18,198.20 284.56,197.60C284.94,197.00 285.32,196.40 285.70,196.40Z" fill="url(#mb)" stroke="#f2f2f2" stroke-width="1.3" filter="url(#soft)"/></g><g transform="rotate(0 177.3 221.5)" filter="url(#soft2)"><ellipse cx="177.3" cy="221.5" rx="2.5" ry="3.5999999999999996" fill="#9088ff" opacity="0.4"/><ellipse cx="177.3" cy="221.5" rx="1.2" ry="2.3" fill="#1818ff"/></g><g transform="rotate(0 185.2 221.9)" filter="url(#soft2)"><ellipse cx="185.2" cy="221.9" rx="4.3" ry="4.0" fill="#9088ff" opacity="0.4"/><ellipse cx="185.2" cy="221.9" rx="3" ry="2.7" fill="#1818ff"/></g><g transform="rotate(0 203.6 219.2)" filter="url(#soft2)"><ellipse cx="203.6" cy="219.2" rx="6.2" ry="5.8" fill="#9088ff" opacity="0.4"/><ellipse cx="203.6" cy="219.2" rx="4.9" ry="4.5" fill="#1818ff"/><ellipse cx="203.6" cy="219.2" rx="3.40" ry="3.00" fill="#d4fcff"/><ellipse cx="203.6" cy="219.2" rx="2.04" ry="1.80" fill="#70ec60"/></g><g transform="rotate(0 228.8 223.7)" filter="url(#soft2)"><ellipse cx="228.8" cy="223.7" rx="3.5999999999999996" ry="5.8" fill="#9088ff" opacity="0.4"/><ellipse cx="228.8" cy="223.7" rx="2.3" ry="4.5" fill="#1818ff"/><ellipse cx="228.8" cy="223.7" rx="1.15" ry="3.35" fill="#b4bcf0"/></g><g transform="rotate(0 238.1 223)" filter="url(#soft2)"><ellipse cx="238.1" cy="223" rx="5.3999999999999995" ry="6.5" fill="#9088ff" opacity="0.4"/><ellipse cx="238.1" cy="223" rx="4.1" ry="5.2" fill="#1818ff"/><ellipse cx="238.1" cy="223" rx="2.60" ry="3.70" fill="#d4fcff"/><ellipse cx="238.1" cy="223" rx="1.56" ry="2.22" fill="#90e8ff"/></g><g transform="rotate(0 254 223.5)" filter="url(#soft2)"><ellipse cx="254" cy="223.5" rx="6.3999999999999995" ry="6.1" fill="#9088ff" opacity="0.4"/><ellipse cx="254" cy="223.5" rx="5.1" ry="4.8" fill="#1818ff"/><ellipse cx="254" cy="223.5" rx="3.60" ry="3.30" fill="#d4fcff"/><ellipse cx="254" cy="223.5" rx="2.16" ry="1.98" fill="#70ec60"/></g><g transform="rotate(0 263 225.6)" filter="url(#soft2)"><ellipse cx="263" cy="225.6" rx="2.8" ry="4.0" fill="#9088ff" opacity="0.4"/><ellipse cx="263" cy="225.6" rx="1.5" ry="2.7" fill="#1818ff"/></g><g transform="rotate(0 279 222.9)" filter="url(#soft2)"><ellipse cx="279" cy="222.9" rx="4.0" ry="5.5" fill="#9088ff" opacity="0.4"/><ellipse cx="279" cy="222.9" rx="2.7" ry="4.2" fill="#1818ff"/><ellipse cx="279" cy="222.9" rx="1.55" ry="3.05" fill="#b4bcf0"/></g><g transform="rotate(0 287.1 222.6)" filter="url(#soft2)"><ellipse cx="287.1" cy="222.6" rx="4.9" ry="6.3999999999999995" fill="#9088ff" opacity="0.4"/><ellipse cx="287.1" cy="222.6" rx="3.6" ry="5.1" fill="#1818ff"/><ellipse cx="287.1" cy="222.6" rx="2.10" ry="3.60" fill="#d4fcff"/><ellipse cx="287.1" cy="222.6" rx="1.26" ry="2.16" fill="#90e8ff"/></g></g><rect x="159.8" y="16" width="2.2" height="261" fill="#0a0a0a"/><rect x="24.3" y="100.8" width="279.4" height="2" fill="#0a0a0a"/><rect x="24.3" y="186.5" width="279.4" height="2.3" fill="#0a0a0a"/><rect x="302.3" y="22.5" width="8.3" height="100" fill="url(#cbar)"/><rect x="310.3" y="22.5" width="1.3" height="0.6" fill="#333"/><rect x="310.3" y="28.2" width="1.3" height="0.6" fill="#333"/><rect x="310.3" y="33.9" width="1.3" height="0.6" fill="#333"/><rect x="310.3" y="39.6" width="1.3" height="0.6" fill="#333"/><rect x="310.3" y="45.4" width="1.3" height="0.6" fill="#333"/><rect x="310.3" y="51.1" width="1.3" height="0.6" fill="#333"/><rect x="310.3" y="56.8" width="1.3" height="0.6" fill="#333"/><rect x="310.3" y="62.5" width="1.3" height="0.6" fill="#333"/><rect x="310.3" y="68.2" width="1.3" height="0.6" fill="#333"/><rect x="310.3" y="73.9" width="1.3" height="0.6" fill="#333"/><rect x="310.3" y="79.6" width="1.3" height="0.6" fill="#333"/><rect x="310.3" y="85.4" width="1.3" height="0.6" fill="#333"/><rect x="310.3" y="91.1" width="1.3" height="0.6" fill="#333"/><rect x="310.3" y="96.8" width="1.3" height="0.6" fill="#333"/><rect x="310.3" y="102.5" width="1.3" height="0.6" fill="#333"/><rect x="310.3" y="108.2" width="1.3" height="0.6" fill="#333"/><rect x="310.3" y="113.9" width="1.3" height="0.6" fill="#333"/><rect x="310.3" y="119.6" width="1.3" height="0.6" fill="#333"/><rect x="310.3" y="22.400000000000002" width="3.2" height="0.8" fill="#333"/><text x="316" y="25.0" font-size="6.2" font-weight="normal" text-anchor="start" font-family="Liberation Sans, sans-serif" textLength="11.6" lengthAdjust="spacingAndGlyphs">2000</text><rect x="310.3" y="50.6" width="3.2" height="0.8" fill="#333"/><text x="316" y="53.2" font-size="6.2" font-weight="normal" text-anchor="start" font-family="Liberation Sans, sans-serif" textLength="11" lengthAdjust="spacingAndGlyphs">1500</text><rect x="310.3" y="78.6" width="3.2" height="0.8" fill="#333"/><text x="316" y="81.2" font-size="6.2" font-weight="normal" text-anchor="start" font-family="Liberation Sans, sans-serif" textLength="11.6" lengthAdjust="spacingAndGlyphs">1000</text><rect x="310.3" y="107.0" width="3.2" height="0.8" fill="#333"/><text x="316" y="109.60000000000001" font-size="6.2" font-weight="normal" text-anchor="start" font-family="Liberation Sans, sans-serif" textLength="8" lengthAdjust="spacingAndGlyphs">500</text><rect x="302.6" y="125.6" width="26.4" height="20.2" fill="#fff" stroke="#333" stroke-width="0.8"/><text x="316" y="131.8" font-size="5.4" font-weight="normal" text-anchor="middle" font-family="Liberation Sans, sans-serif" textLength="20.5" lengthAdjust="spacingAndGlyphs">Color Bar</text><text x="316" y="138" font-size="5.4" font-weight="normal" text-anchor="middle" font-family="Liberation Sans, sans-serif" textLength="20.5" lengthAdjust="spacingAndGlyphs">Min = 250</text><text x="315.9" y="143.8" font-size="5.4" font-weight="normal" text-anchor="middle" font-family="Liberation Sans, sans-serif" textLength="24.6" lengthAdjust="spacingAndGlyphs">Max = 2000</text><text x="301.5" y="154" font-size="5.6" font-weight="normal" text-anchor="start" font-family="Liberation Sans, sans-serif" textLength="19" lengthAdjust="spacingAndGlyphs">bkg sub</text><text x="301.5" y="160.2" font-size="5.6" font-weight="normal" text-anchor="start" font-family="Liberation Sans, sans-serif" textLength="24.2" lengthAdjust="spacingAndGlyphs">flat-fielded</text><text x="301.5" y="166.2" font-size="5.6" font-weight="normal" text-anchor="start" font-family="Liberation Sans, sans-serif" textLength="16.4" lengthAdjust="spacingAndGlyphs">cosmic</text><text x="334.4" y="14.5" font-size="18.7" font-weight="bold" text-anchor="start" font-family="Liberation Sans, sans-serif" >B</text><rect x="376.8" y="30" width="1" height="214" fill="#444"/><rect x="376.8" y="243.3" width="122.5" height="1" fill="#444"/><text x="372.6" y="41.6" font-size="14.2" font-weight="bold" text-anchor="end" font-family="Liberation Sans, sans-serif" textLength="18.8" lengthAdjust="spacingAndGlyphs">0.8</text><text x="373.4" y="83.7" font-size="14.2" font-weight="bold" text-anchor="end" font-family="Liberation Sans, sans-serif" textLength="18.8" lengthAdjust="spacingAndGlyphs">0.6</text><text x="373.4" y="122.9" font-size="14.2" font-weight="bold" text-anchor="end" font-family="Liberation Sans, sans-serif" textLength="18.8" lengthAdjust="spacingAndGlyphs">0.4</text><text x="374" y="164.3" font-size="14.2" font-weight="bold" text-anchor="end" font-family="Liberation Sans, sans-serif" textLength="18.8" lengthAdjust="spacingAndGlyphs">0.2</text><text x="374" y="206" font-size="14.2" font-weight="bold" text-anchor="end" font-family="Liberation Sans, sans-serif" textLength="18.8" lengthAdjust="spacingAndGlyphs">0.1</text><text x="369" y="251" font-size="14.2" font-weight="bold" text-anchor="end" font-family="Liberation Sans, sans-serif" textLength="7.9" lengthAdjust="spacingAndGlyphs">0</text><rect x="391.35" y="105.64999999999999" width="8.3" height="138.2" fill="url(#hatch)" stroke="#222" stroke-width="0.7"/><rect x="401.2" y="47.7" width="9.100000000000023" height="195.8" fill="#000"/><rect x="433.35" y="181.95" width="9.3" height="61.900000000000006" fill="url(#hatch)" stroke="#222" stroke-width="0.7"/><rect x="444" y="77.3" width="10" height="166.2" fill="#000"/><rect x="469.85" y="228.45" width="8.699999999999978" height="15.400000000000006" fill="url(#hatch)" stroke="#222" stroke-width="0.7"/><rect x="480.2" y="111.3" width="9.199999999999989" height="132.2" fill="#000"/><rect x="395.15000000000003" y="102.6" width="0.9" height="2.700000000000003" fill="#333"/><rect x="392.20000000000005" y="102.14999999999999" width="6.8" height="0.9" fill="#333"/><rect x="404.75" y="45" width="0.9" height="2.700000000000003" fill="#333"/><rect x="402.59999999999997" y="44.55" width="5.2" height="0.9" fill="#333"/><rect x="437.25" y="179.4" width="0.9" height="2.1999999999999886" fill="#333"/><rect x="434.3" y="178.95000000000002" width="6.8" height="0.9" fill="#333"/><rect x="448.45" y="74.1" width="0.9" height="3.200000000000003" fill="#333"/><rect x="445.7" y="73.64999999999999" width="6.4" height="0.9" fill="#333"/><rect x="473.75" y="221.4" width="0.9" height="6.699999999999989" fill="#333"/><rect x="471.9" y="220.95000000000002" width="4.6" height="0.9" fill="#333"/><rect x="484.55" y="107.3" width="0.9" height="4.0" fill="#333"/><rect x="482.2" y="106.85" width="5.6" height="0.9" fill="#333"/><path d="M395.40,87.90L395.40,92.90M393.23,89.15L397.57,91.65M397.57,89.15L393.23,91.65" stroke="#333" stroke-width="1.05" stroke-linecap="round" fill="none"/><path d="M434.40,170.70L434.40,175.70M432.23,171.95L436.57,174.45M436.57,171.95L432.23,174.45" stroke="#333" stroke-width="1.05" stroke-linecap="round" fill="none"/><path d="M441.40,170.70L441.40,175.70M439.23,171.95L443.57,174.45M443.57,171.95L439.23,174.45" stroke="#333" stroke-width="1.05" stroke-linecap="round" fill="none"/><path d="M469.80,215.90L469.80,220.90M467.63,217.15L471.97,219.65M471.97,217.15L467.63,219.65" stroke="#333" stroke-width="1.05" stroke-linecap="round" fill="none"/><path d="M476.70,215.90L476.70,220.90M474.53,217.15L478.87,219.65M478.87,217.15L474.53,219.65" stroke="#333" stroke-width="1.05" stroke-linecap="round" fill="none"/><text x="397.6" y="257.2" font-size="14.2" font-weight="bold" text-anchor="middle" font-family="Liberation Sans, sans-serif" textLength="7.4" lengthAdjust="spacingAndGlyphs">2</text><text x="447.7" y="257.2" font-size="14.2" font-weight="bold" text-anchor="middle" font-family="Liberation Sans, sans-serif" textLength="7.4" lengthAdjust="spacingAndGlyphs">4</text><text x="481.3" y="257.2" font-size="14.2" font-weight="bold" text-anchor="middle" font-family="Liberation Sans, sans-serif" textLength="7.4" lengthAdjust="spacingAndGlyphs">6</text><text x="445.3" y="269.4" font-size="14.4" font-weight="bold" text-anchor="middle" font-family="Liberation Sans, sans-serif" textLength="51.6" lengthAdjust="spacingAndGlyphs">Time (h)</text><text x="348" y="140" font-size="14" font-weight="bold" text-anchor="middle" font-family="Liberation Sans, sans-serif" transform="rotate(-90 348 140)">Photon Ratio</text><rect x="420.8" y="37.5" width="8.8" height="7.9" fill="url(#hatch2)" stroke="#222" stroke-width="0.8"/><text x="434" y="45.8" font-size="9.2" font-weight="bold" text-anchor="start" font-family="Liberation Sans, sans-serif" >Naïve mice</text><rect x="420.7" y="54.2" width="9.4" height="8.1" fill="#000"/><text x="431" y="62.3" font-size="9.2" font-weight="bold" text-anchor="start" font-family="Liberation Sans, sans-serif" >Tumor bearing mice</text><text x="50.2" y="314.3" font-size="19.5" font-weight="bold" text-anchor="start" font-family="Liberation Sans, sans-serif" >C</text><rect x="86.8" y="305.6" width="1" height="141.29999999999995" fill="#5a5a5a"/><rect x="86.8" y="445.9" width="144.7" height="1" fill="#5a5a5a"/><rect x="84.3" y="445.9" width="3" height="1" fill="#5a5a5a"/><text x="80.7" y="452.2" font-size="11.3" font-weight="normal" text-anchor="end" font-family="Liberation Sans, sans-serif" >0</text><rect x="84.3" y="399.26666666666665" width="3" height="1" fill="#5a5a5a"/><text x="82.39999999999999" y="405.56666666666666" font-size="11.3" font-weight="normal" text-anchor="end" font-family="Liberation Sans, sans-serif" >25</text><rect x="84.3" y="352.6333333333333" width="3" height="1" fill="#5a5a5a"/><text x="82.39999999999999" y="358.93333333333334" font-size="11.3" font-weight="normal" text-anchor="end" font-family="Liberation Sans, sans-serif" >50</text><rect x="84.3" y="306.0" width="3" height="1" fill="#5a5a5a"/><text x="82.39999999999999" y="312.3" font-size="11.3" font-weight="normal" text-anchor="end" font-family="Liberation Sans, sans-serif" >75</text><rect x="86.8" y="446.4" width="1" height="3" fill="#5a5a5a"/><text x="87.3" y="462.9" font-size="11.3" font-weight="normal" text-anchor="middle" font-family="Liberation Sans, sans-serif" >0</text><rect x="121.8" y="446.4" width="1" height="3" fill="#5a5a5a"/><text x="122.3" y="462.9" font-size="11.3" font-weight="normal" text-anchor="middle" font-family="Liberation Sans, sans-serif" >10</text><rect x="156.8" y="446.4" width="1" height="3" fill="#5a5a5a"/><text x="157.3" y="462.9" font-size="11.3" font-weight="normal" text-anchor="middle" font-family="Liberation Sans, sans-serif" >20</text><rect x="226.8" y="446.4" width="1" height="3" fill="#5a5a5a"/><text x="227.3" y="462.9" font-size="11.3" font-weight="normal" text-anchor="middle" font-family="Liberation Sans, sans-serif" >40</text><text x="164" y="477.8" font-size="10.4" font-weight="bold" text-anchor="middle" font-family="Liberation Sans, sans-serif" >E/T Ratios (NK: YAC-1-Luc)</text><text x="63.8" y="380.7" font-size="11.7" font-weight="bold" text-anchor="middle" font-family="Liberation Sans, sans-serif" transform="rotate(-90 63.8 380.7)">NK cytotoxicity (%)</text><polyline points="122.3,423.3 157.3,387.5 227.3,355.7" fill="none" stroke="#000" stroke-width="1.8"/><path d="M122.3,419.0 V427.6 M120.5,419.0 H124.1 M120.5,427.6 H124.1" stroke="#333" stroke-width="1" fill="none"/><circle cx="122.3" cy="423.3" r="2.2" fill="#fff" stroke="#000" stroke-width="0.9"/><path d="M157.3,383.7 V391.2 M155.5,383.7 H159.1 M155.5,391.2 H159.1" stroke="#333" stroke-width="1" fill="none"/><circle cx="157.3" cy="387.5" r="2.2" fill="#fff" stroke="#000" stroke-width="0.9"/><path d="M227.3,350.3 V361.2 M225.5,350.3 H229.1 M225.5,361.2 H229.1" stroke="#333" stroke-width="1" fill="none"/><circle cx="227.3" cy="355.7" r="2.2" fill="#fff" stroke="#000" stroke-width="0.9"/><polyline points="122.3,436.3 157.3,426.8 227.3,415.1" fill="none" stroke="#000" stroke-width="1.8"/><path d="M122.3,432.8 V439.9 M120.5,432.8 H124.1 M120.5,439.9 H124.1" stroke="#333" stroke-width="1" fill="none"/><circle cx="122.3" cy="436.3" r="2.5" fill="#000"/><path d="M157.3,421.0 V432.6 M155.5,421.0 H159.1 M155.5,432.6 H159.1" stroke="#333" stroke-width="1" fill="none"/><circle cx="157.3" cy="426.8" r="2.5" fill="#000"/><path d="M227.3,404.2 V425.9 M225.5,404.2 H229.1 M225.5,425.9 H229.1" stroke="#333" stroke-width="1" fill="none"/><circle cx="227.3" cy="415.1" r="2.5" fill="#000"/><rect x="90.5" y="317.3" width="16.5" height="1.4" fill="#000"/><circle cx="98.5" cy="318" r="1.9" fill="#000"/><text x="108.5" y="322.2" font-size="11.6" font-weight="normal" text-anchor="start" font-family="Liberation Sans, sans-serif" >Tumor bearing mice</text><rect x="90.5" y="339.4" width="16.5" height="1.2" fill="#000"/><circle cx="98.5" cy="340" r="1.9" fill="#fff" stroke="#000" stroke-width="0.8"/><text x="108.5" y="344.2" font-size="11.6" font-weight="normal" text-anchor="start" font-family="Liberation Sans, sans-serif" >Naïve mice</text><text x="275.6" y="313.8" font-size="19.4" font-weight="bold" text-anchor="start" font-family="Liberation Sans, sans-serif" >D</text><rect x="312.9" y="302" width="1" height="144.5" fill="#5a5a5a"/><rect x="312.9" y="445.5" width="149.90000000000003" height="1" fill="#5a5a5a"/><rect x="310.4" y="445.5" width="3" height="1" fill="#5a5a5a"/><text x="306.79999999999995" y="451.8" font-size="11.3" font-weight="normal" text-anchor="end" font-family="Liberation Sans, sans-serif" >0</text><rect x="310.4" y="397.56666666666666" width="3" height="1" fill="#5a5a5a"/><text x="308.5" y="403.8666666666667" font-size="11.3" font-weight="normal" text-anchor="end" font-family="Liberation Sans, sans-serif" >25</text><rect x="310.4" y="349.6333333333333" width="3" height="1" fill="#5a5a5a"/><text x="308.5" y="355.93333333333334" font-size="11.3" font-weight="normal" text-anchor="end" font-family="Liberation Sans, sans-serif" >50</text><rect x="310.4" y="301.7" width="3" height="1" fill="#5a5a5a"/><text x="308.5" y="308.0" font-size="11.3" font-weight="normal" text-anchor="end" font-family="Liberation Sans, sans-serif" >75</text><rect x="312.9" y="446" width="1" height="3" fill="#5a5a5a"/><text x="313.4" y="462.5" font-size="11.3" font-weight="normal" text-anchor="middle" font-family="Liberation Sans, sans-serif" >0</text><rect x="349.04999999999995" y="446" width="1" height="3" fill="#5a5a5a"/><text x="349.54999999999995" y="462.5" font-size="11.3" font-weight="normal" text-anchor="middle" font-family="Liberation Sans, sans-serif" >10</text><rect x="385.2" y="446" width="1" height="3" fill="#5a5a5a"/><text x="385.7" y="462.5" font-size="11.3" font-weight="normal" text-anchor="middle" font-family="Liberation Sans, sans-serif" >20</text><rect x="457.5" y="446" width="1" height="3" fill="#5a5a5a"/><text x="458.0" y="462.5" font-size="11.3" font-weight="normal" text-anchor="middle" font-family="Liberation Sans, sans-serif" >40</text><text x="393.5" y="477.2" font-size="10.4" font-weight="bold" text-anchor="middle" font-family="Liberation Sans, sans-serif" >E/T Ratios (NK: TS/A-Luc)</text><text x="292.5" y="389.2" font-size="11.7" font-weight="bold" text-anchor="middle" font-family="Liberation Sans, sans-serif" transform="rotate(-90 292.5 389.2)">NK cytotoxicity (%)</text><polyline points="349.5,422.4 385.7,395.0 458.0,366.2" fill="none" stroke="#000" stroke-width="1.8"/><path d="M349.5,418.0 V426.8 M347.7,418.0 H351.3 M347.7,426.8 H351.3" stroke="#333" stroke-width="1" fill="none"/><circle cx="349.5" cy="422.4" r="2.2" fill="#fff" stroke="#000" stroke-width="0.9"/><path d="M385.7,386.9 V403.1 M383.9,386.9 H387.5 M383.9,403.1 H387.5" stroke="#333" stroke-width="1" fill="none"/><circle cx="385.7" cy="395.0" r="2.2" fill="#fff" stroke="#000" stroke-width="0.9"/><path d="M458.0,360.5 V372.0 M456.2,360.5 H459.8 M456.2,372.0 H459.8" stroke="#333" stroke-width="1" fill="none"/><circle cx="458.0" cy="366.2" r="2.2" fill="#fff" stroke="#000" stroke-width="0.9"/><polyline points="349.5,436.2 385.7,425.9 458.0,421.8" fill="none" stroke="#000" stroke-width="1.8"/><path d="M349.5,432.0 V440.4 M347.7,432.0 H351.3 M347.7,440.4 H351.3" stroke="#333" stroke-width="1" fill="none"/><circle cx="349.5" cy="436.2" r="2.5" fill="#000"/><path d="M385.7,421.5 V430.3 M383.9,421.5 H387.5 M383.9,430.3 H387.5" stroke="#333" stroke-width="1" fill="none"/><circle cx="385.7" cy="425.9" r="2.5" fill="#000"/><path d="M458.0,415.9 V427.8 M456.2,415.9 H459.8 M456.2,427.8 H459.8" stroke="#333" stroke-width="1" fill="none"/><circle cx="458.0" cy="421.8" r="2.5" fill="#000"/><rect x="316.5" y="314.8" width="16.5" height="1.4" fill="#000"/><circle cx="324.5" cy="315.5" r="1.9" fill="#000"/><text x="334.5" y="319.7" font-size="11.6" font-weight="normal" text-anchor="start" font-family="Liberation Sans, sans-serif" >Tumor bearing mice</text><rect x="316.5" y="336.9" width="16.5" height="1.2" fill="#000"/><circle cx="324.5" cy="337.5" r="1.9" fill="#fff" stroke="#000" stroke-width="0.8"/><text x="334.5" y="341.7" font-size="11.6" font-weight="normal" text-anchor="start" font-family="Liberation Sans, sans-serif" >Naïve mice</text></svg></body></html>
